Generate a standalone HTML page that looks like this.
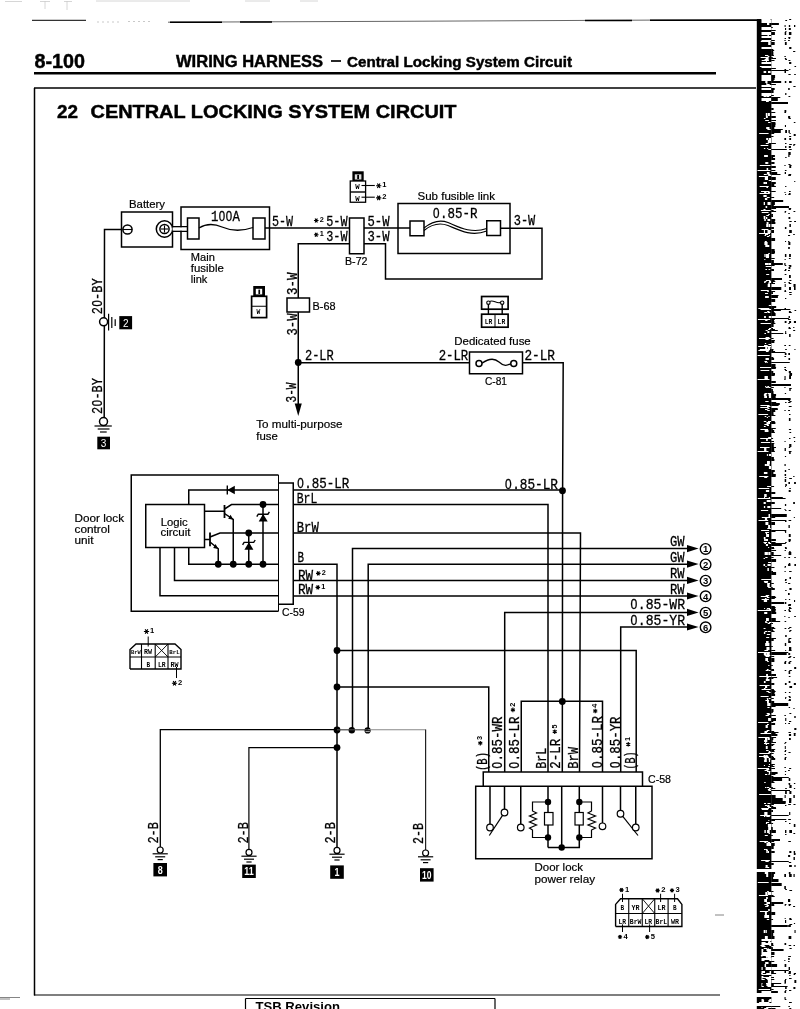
<!DOCTYPE html>
<html><head><meta charset="utf-8"><title>8-100 Wiring Harness - Central Locking System Circuit</title>
<style>
html,body{margin:0;padding:0;background:#fff;}
body{width:800px;height:1009px;overflow:hidden;font-family:"Liberation Sans",sans-serif;}
svg{display:block;position:absolute;left:0;top:0;filter:grayscale(1);}
text{white-space:pre;}
</style></head><body>
<svg width="800" height="1009" viewBox="0 0 800 1009">
<rect width="800" height="1009" fill="#fff"/>
<defs><filter id="nb" x="-5%" y="-1%" width="110%" height="102%"><feGaussianBlur stdDeviation="0.45"/></filter></defs><g filter="url(#nb)"><rect x="756.8" y="19" width="14.6" height="990" fill="#000"/><path d="M761.4 19.5H770.7M761.5 20.5H771.4M768.1 21.5H769.2M761.5 21.5H771.4M768.1 22.5H769.2M761.5 22.5H771.4M767.0 23.5H769.3M767.0 24.5H769.3M765.8 27.5H768.2M764.6 27.5H767.3M761.5 27.5H771.4M761.5 28.5H771.4M761.5 29.5H771.4M765.6 32.5H766.8M764.6 32.5H767.2M761.5 32.5H771.4M765.6 33.5H766.8M764.6 33.5H767.2M761.5 33.5H771.4M765.6 34.5H766.8M764.6 34.5H767.2M761.5 34.5H771.4M767.5 35.5H768.9M764.1 36.5H766.4M761.5 36.5H771.4M761.5 37.5H771.4M766.1 40.5H768.0M761.5 40.5H771.4M760.8 41.5H770.5M768.2 42.5H770.7M768.2 43.5H770.7M768.2 44.5H770.7M765.2 47.5H766.4M761.5 47.5H771.4M765.2 48.5H766.4M761.5 48.5H771.4M765.3 55.5H768.3M765.0 55.5H767.5M767.7 56.5H769.4M760.6 57.5H768.7M765.7 58.5H768.6M766.1 59.5H768.7M764.6 59.5H767.4M761.7 60.5H768.9M765.9 61.5H766.9M768.7 62.5H770.9M768.7 62.5H769.9M761.5 62.5H771.4M768.7 63.5H770.9M768.7 63.5H769.9M761.5 63.5H771.4M759.9 66.5H770.0M761.5 66.5H771.4M766.2 67.5H768.9M761.5 67.5H771.4M763.6 71.5H766.2M768.0 71.5H770.6M763.6 72.5H766.2M768.0 72.5H770.6M765.7 75.5H768.4M761.5 75.5H771.4M765.7 76.5H768.4M761.5 76.5H771.4M765.7 77.5H768.4M761.5 77.5H771.4M766.3 78.5H769.0M764.5 78.5H765.7M761.5 78.5H771.4M766.3 79.5H769.0M764.5 79.5H765.7M761.5 79.5H771.4M761.5 80.5H771.4M765.3 81.5H767.5M765.3 82.5H767.5M766.3 83.5H767.4M766.3 84.5H769.7M761.5 85.5H771.4M767.9 86.5H769.6M761.5 86.5H771.4M761.5 88.5H771.4M761.5 89.5H771.4M767.0 93.5H770.0M761.5 93.5H771.4M767.0 94.5H770.0M761.5 94.5H771.4M765.9 95.5H768.1M761.5 95.5H771.4M763.6 96.5H766.6M766.7 96.5H769.3M764.3 98.5H767.7M764.8 98.5H767.6M761.5 98.5H771.4M764.3 99.5H767.7M764.8 99.5H767.6M761.5 99.5H771.4M764.3 100.5H767.7M764.8 100.5H767.6M761.5 100.5H771.4M766.0 101.5H767.7M766.7 101.5H768.8M765.8 113.5H767.5M768.0 113.5H769.9M765.8 114.5H767.5M768.0 114.5H769.9M765.8 115.5H767.5M768.0 115.5H769.9M765.9 116.5H767.8M765.9 117.5H767.8M763.9 118.5H765.5M765.9 120.5H768.9M765.2 120.5H767.0M768.1 122.5H770.5M766.2 127.5H769.5M766.2 128.5H769.5M767.4 129.5H770.7M759.2 133.5H768.6M766.2 138.5H768.2M768.8 138.5H771.0M766.2 139.5H768.2M768.8 139.5H771.0M767.8 140.5H769.0M768.6 140.5H771.0M767.8 141.5H769.0M768.6 141.5H771.0M767.8 142.5H769.0M768.6 142.5H771.0M765.8 143.5H768.7M760.6 145.5H768.3M767.2 148.5H768.3M763.9 148.5H765.3M768.3 149.5H771.0M766.0 155.5H767.9M764.1 155.5H766.6M766.0 156.5H767.9M764.1 156.5H766.6M765.3 162.5H767.2M767.1 162.5H768.3M765.3 163.5H767.2M767.1 163.5H768.3M759.8 165.5H770.5M766.6 168.5H768.2M766.6 169.5H768.2M757.5 170.5H770.4M766.9 172.5H769.5M767.7 172.5H769.1M766.9 173.5H769.5M767.7 173.5H769.1M763.8 174.5H766.8M767.5 174.5H770.4M768.4 175.5H770.5M768.5 175.5H771.0M758.9 176.5H768.2M764.8 177.5H768.0M764.8 178.5H768.0M764.8 179.5H768.0M768.7 180.5H771.0M769.0 180.5H771.0M763.5 182.5H765.1M765.1 182.5H767.0M763.5 183.5H765.1M765.1 183.5H767.0M759.6 186.5H768.7M766.4 187.5H768.0M761.0 191.5H769.5M767.9 192.5H770.2M764.1 192.5H766.4M759.5 193.5H769.8M763.5 195.5H766.7M763.8 195.5H765.0M763.5 196.5H766.7M763.8 196.5H765.0M766.8 197.5H769.7M764.9 198.5H767.3M764.9 199.5H767.3M767.5 202.5H770.6M763.7 202.5H765.0M767.5 203.5H770.6M763.7 203.5H765.0M767.5 204.5H770.6M763.7 204.5H765.0M765.6 206.5H767.2M765.6 207.5H767.2M763.5 209.5H765.5M760.9 210.5H770.6M761.7 212.5H768.6M768.2 214.5H769.8M766.3 215.5H768.7M767.1 215.5H768.6M763.6 216.5H765.4M765.7 217.5H767.3M763.7 217.5H765.1M765.7 218.5H767.3M763.7 218.5H765.1M767.5 219.5H770.2M764.3 219.5H765.8M767.5 220.5H770.2M764.3 220.5H765.8M766.6 222.5H768.5M766.6 223.5H768.5M766.2 224.5H768.4M768.6 224.5H770.3M766.2 225.5H768.4M768.6 225.5H770.3M766.2 226.5H768.4M768.6 226.5H770.3M761.6 229.5H768.4M767.5 230.5H770.7M763.9 230.5H765.0M767.5 231.5H770.7M763.9 231.5H765.0M767.5 232.5H770.7M763.9 232.5H765.0M759.1 233.5H770.0M765.0 234.5H768.1M768.9 235.5H770.2M764.6 235.5H766.1M766.9 236.5H769.3M764.8 241.5H766.4M765.3 241.5H766.7M764.4 242.5H767.6M764.4 243.5H767.6M764.4 244.5H767.6M767.4 245.5H769.3M765.3 245.5H768.2M767.4 246.5H769.3M765.3 246.5H768.2M768.3 253.5H769.8M764.4 254.5H765.6M765.9 254.5H769.1M764.4 255.5H765.6M765.9 255.5H769.1M764.4 256.5H765.6M765.9 256.5H769.1M765.9 257.5H769.0M764.3 259.5H765.4M765.0 263.5H768.4M768.3 263.5H771.0M765.0 264.5H768.4M768.3 264.5H771.0M765.7 266.5H768.7M768.1 266.5H771.0M765.4 269.5H767.1M768.5 269.5H770.3M766.2 274.5H769.2M765.9 280.5H768.1M768.1 280.5H770.4M764.3 281.5H766.5M769.0 281.5H771.0M764.1 282.5H765.6M768.6 282.5H771.0M768.3 283.5H769.8M767.7 284.5H770.1M767.7 285.5H770.1M767.7 286.5H770.1M760.8 290.5H768.7M767.3 291.5H768.8M765.6 293.5H768.1M765.0 293.5H766.4M765.1 296.5H767.8M767.2 296.5H768.8M765.1 297.5H767.8M767.2 297.5H768.8M768.8 305.5H771.0M758.4 308.5H769.3M760.5 309.5H771.4M767.1 311.5H769.4M764.3 312.5H767.5M768.0 312.5H770.2M764.1 316.5H765.9M768.8 316.5H771.0M764.1 317.5H765.9M768.8 317.5H771.0M757.9 319.5H770.2M765.2 320.5H767.5M760.6 323.5H770.9M769.0 328.5H771.0M768.0 329.5H770.2M765.6 330.5H767.7M767.4 331.5H769.4M767.4 332.5H769.4M764.4 333.5H766.0M765.6 337.5H768.6M767.3 337.5H769.4M759.0 338.5H770.4M765.6 339.5H768.4M765.9 339.5H768.4M764.9 343.5H766.2M768.4 344.5H771.0M764.1 345.5H766.0M764.4 345.5H767.7M758.2 346.5H771.0M765.2 347.5H767.3M767.8 347.5H770.4M765.2 348.5H767.3M767.8 348.5H770.4M759.8 349.5H770.0M758.4 350.5H769.3M765.9 351.5H768.6M757.6 355.5H769.7M765.5 358.5H768.9M765.5 359.5H768.9M764.5 361.5H765.8M764.9 361.5H767.1M766.7 362.5H767.7M765.2 362.5H766.4M760.0 367.5H771.3M760.5 370.5H769.3M764.5 376.5H767.9M764.5 377.5H767.9M764.5 378.5H767.9M757.6 379.5H769.5M765.1 386.5H766.3M767.3 386.5H769.1M765.7 387.5H767.9M768.2 387.5H770.6M768.0 393.5H771.0M764.5 393.5H767.5M768.6 394.5H771.0M763.9 394.5H766.5M768.6 395.5H771.0M763.9 395.5H766.5M768.9 396.5H771.0M764.2 396.5H767.0M768.9 397.5H771.0M764.2 397.5H767.0M765.3 401.5H768.6M760.4 405.5H769.5M767.7 406.5H770.1M767.0 406.5H770.4M760.3 407.5H768.6M767.4 408.5H769.5M765.0 409.5H767.7M767.2 410.5H769.8M758.4 414.5H768.1M768.4 416.5H769.6M764.7 416.5H766.3M766.8 417.5H768.0M763.8 421.5H766.3M768.0 421.5H771.0M767.4 422.5H769.8M766.5 422.5H770.0M767.4 423.5H769.8M766.5 423.5H770.0M766.4 424.5H768.6M764.4 424.5H767.0M766.8 425.5H769.0M763.9 426.5H765.7M760.4 429.5H768.1M765.4 430.5H768.5M764.7 430.5H766.9M765.4 431.5H768.5M764.7 431.5H766.9M768.2 437.5H771.0M760.2 438.5H771.0M766.1 439.5H767.8M766.1 440.5H767.8M760.9 442.5H770.2M760.0 447.5H769.6M764.1 448.5H766.4M764.1 449.5H766.4M764.1 450.5H766.4M757.6 451.5H768.5M768.9 454.5H771.0M766.9 454.5H767.9M768.9 455.5H771.0M766.9 455.5H767.9M767.0 461.5H769.5M768.6 461.5H769.8M767.0 462.5H769.5M768.6 462.5H769.8M767.0 463.5H769.5M768.6 463.5H769.8M766.2 464.5H769.6M764.8 464.5H766.5M766.2 465.5H769.6M764.8 465.5H766.5M768.9 466.5H771.0M768.9 467.5H771.0M768.9 468.5H771.0M764.5 472.5H767.4M763.9 472.5H767.1M764.5 473.5H767.4M763.9 473.5H767.1M759.2 476.5H768.3M764.6 477.5H767.2M764.4 477.5H765.8M769.0 486.5H771.0M767.1 486.5H770.5M758.7 488.5H769.3M765.9 490.5H769.2M765.9 491.5H769.2M764.2 494.5H766.7M764.2 495.5H766.7M764.2 496.5H766.7M768.8 497.5H770.0M764.0 497.5H765.1M757.8 498.5H770.3M768.4 500.5H770.7M766.7 500.5H769.9M768.4 501.5H770.7M766.7 501.5H769.9M763.6 502.5H765.8M763.6 503.5H765.8M767.3 506.5H770.4M763.9 506.5H765.2M767.3 507.5H770.4M763.9 507.5H765.2M760.9 510.5H768.2M768.5 514.5H770.0M768.5 515.5H770.0M768.5 516.5H770.0M761.8 517.5H770.2M764.9 518.5H767.2M765.2 518.5H766.7M764.9 519.5H767.2M765.2 519.5H766.7M758.5 520.5H768.2M765.7 522.5H768.4M765.6 522.5H767.6M765.7 523.5H768.4M765.6 523.5H767.6M765.7 524.5H768.4M765.6 524.5H767.6M768.1 525.5H770.1M768.1 526.5H770.1M768.1 527.5H770.1M767.3 528.5H770.8M761.1 530.5H769.1M765.4 532.5H768.9M765.5 532.5H768.8M765.8 533.5H767.1M766.1 534.5H769.0M766.1 535.5H769.0M766.1 536.5H769.0M764.0 537.5H765.4M763.8 537.5H765.2M764.0 538.5H765.4M763.8 538.5H765.2M764.1 539.5H765.9M765.8 539.5H768.0M764.1 540.5H765.9M765.8 540.5H768.0M763.5 542.5H767.0M768.1 542.5H770.0M764.4 543.5H766.0M768.5 543.5H771.0M765.9 544.5H768.0M766.1 544.5H768.0M765.9 545.5H768.0M766.1 545.5H768.0M768.1 547.5H769.2M764.6 552.5H767.9M768.3 552.5H770.5M764.6 553.5H767.9M768.3 553.5H770.5M764.6 554.5H767.9M768.3 554.5H770.5M765.3 557.5H767.6M763.6 558.5H764.9M768.1 562.5H771.0M763.5 564.5H765.1M767.5 564.5H770.7M763.5 565.5H765.1M767.5 565.5H770.7M765.4 566.5H766.6M767.4 568.5H768.9M767.4 569.5H768.9M767.4 570.5H768.9M761.3 579.5H771.0M765.5 581.5H768.1M763.9 581.5H767.1M764.4 582.5H767.8M767.2 583.5H770.0M767.2 584.5H769.7M767.2 585.5H769.7M767.2 586.5H769.7M768.2 587.5H770.8M767.3 595.5H769.2M765.7 595.5H769.0M760.8 596.5H768.2M766.9 597.5H769.4M764.9 598.5H766.5M761.6 599.5H768.9M763.8 600.5H767.1M763.8 601.5H767.1M764.1 608.5H765.1M766.9 608.5H770.0M768.5 609.5H771.0M766.5 609.5H767.6M757.7 610.5H771.3M764.2 612.5H767.3M764.2 613.5H767.3M766.0 618.5H768.0M766.4 618.5H768.9M766.0 619.5H768.0M766.4 619.5H768.9M766.0 620.5H768.0M766.4 620.5H768.9M765.2 621.5H766.7M765.2 622.5H767.5M768.9 622.5H771.0M767.7 623.5H769.9M763.6 628.5H765.5M767.6 631.5H770.6M764.7 631.5H767.0M763.9 632.5H765.3M763.9 633.5H765.3M766.8 634.5H770.2M766.3 637.5H768.9M766.5 637.5H769.2M766.1 641.5H767.4M766.3 641.5H768.6M766.1 642.5H767.4M766.3 642.5H768.6M765.2 643.5H768.1M766.2 643.5H769.4M765.2 644.5H768.1M766.2 644.5H769.4M765.2 645.5H768.1M766.2 645.5H769.4M766.8 647.5H769.4M766.5 647.5H769.2M766.8 648.5H769.4M766.5 648.5H769.2M766.8 649.5H769.4M766.5 649.5H769.2M766.3 650.5H768.2M764.4 650.5H767.6M758.0 652.5H769.9M766.5 653.5H769.7M763.8 653.5H766.4M766.5 654.5H769.7M763.8 654.5H766.4M767.0 655.5H770.3M764.5 655.5H767.0M766.8 656.5H769.4M765.6 656.5H769.1M765.3 658.5H768.0M765.3 659.5H768.0M765.3 660.5H768.0M767.2 661.5H768.8M768.2 665.5H769.5M766.9 669.5H768.6M768.9 670.5H770.6M765.7 670.5H768.7M766.5 674.5H767.8M766.2 674.5H767.8M766.5 675.5H767.8M766.2 675.5H767.8M759.3 676.5H771.0M766.5 677.5H768.7M766.4 678.5H767.9M765.8 679.5H768.9M766.4 679.5H769.6M765.8 680.5H768.9M766.4 680.5H769.6M763.9 681.5H765.6M763.9 682.5H765.6M759.5 685.5H769.6M765.5 686.5H766.5M765.0 686.5H767.2M765.5 687.5H766.5M765.0 687.5H767.2M763.9 688.5H765.6M761.6 689.5H770.6M766.4 691.5H769.2M768.3 692.5H770.6M760.6 696.5H768.6M768.6 698.5H770.6M766.8 698.5H767.9M767.0 699.5H768.3M765.4 700.5H767.0M766.4 700.5H769.1M767.0 701.5H768.9M767.0 702.5H768.9M767.2 703.5H770.5M767.2 704.5H770.5M767.2 705.5H770.5M767.4 707.5H769.6M766.7 713.5H769.7M767.4 714.5H770.2M765.6 715.5H768.5M766.0 715.5H768.7M768.1 718.5H770.9M768.1 719.5H770.9M768.1 720.5H770.9M758.1 722.5H768.4M767.0 724.5H768.9M765.6 725.5H767.8M765.6 726.5H767.8M765.6 727.5H767.8M766.7 730.5H769.5M764.5 731.5H767.9M765.3 731.5H767.4M764.4 732.5H767.1M760.5 733.5H771.3M758.4 737.5H769.5M767.9 738.5H769.8M765.0 738.5H767.5M767.9 739.5H769.8M765.0 739.5H767.5M765.3 740.5H766.4M764.1 740.5H767.3M765.3 741.5H766.4M764.1 741.5H767.3M765.1 742.5H766.3M764.0 743.5H766.9M766.3 743.5H769.2M765.7 744.5H767.0M765.8 746.5H767.7M765.8 747.5H767.7M765.8 748.5H767.7M766.1 750.5H768.6M768.8 751.5H770.3M768.3 752.5H771.0M759.3 753.5H769.7M763.6 755.5H765.7M766.1 755.5H767.7M759.0 756.5H768.4M766.1 757.5H769.1M763.7 757.5H766.0M768.7 758.5H770.4M764.5 758.5H766.8M768.7 759.5H770.4M764.5 759.5H766.8M764.1 760.5H766.8M768.9 760.5H770.1M764.1 761.5H766.8M768.9 761.5H770.1M768.9 764.5H770.0M763.9 765.5H765.0M768.1 766.5H769.9M757.7 768.5H769.0M766.3 769.5H769.3M767.1 770.5H768.3M764.6 770.5H767.1M767.0 771.5H770.4M768.8 772.5H770.1M768.8 773.5H770.1M768.4 774.5H769.7M765.0 774.5H767.3M764.2 782.5H765.7M765.0 787.5H766.5M767.0 787.5H769.3M769.0 788.5H771.0M767.8 789.5H770.4M768.4 790.5H770.4M768.8 790.5H771.0M759.1 794.5H770.8M767.5 803.5H770.4M764.0 803.5H766.0M764.9 805.5H767.4M767.4 805.5H769.5M767.2 806.5H768.8M767.5 806.5H769.8M768.1 807.5H770.4M768.9 807.5H771.0M761.3 808.5H768.9M761.8 809.5H768.2M764.3 812.5H767.5M764.8 812.5H766.7M764.3 813.5H767.5M764.8 813.5H766.7M764.3 814.5H767.5M764.8 814.5H766.7M760.2 815.5H770.4M764.0 816.5H765.3M766.3 816.5H769.8M768.3 820.5H769.4M766.6 822.5H767.7M766.0 822.5H769.1M765.9 823.5H767.1M767.9 824.5H771.0M767.9 825.5H771.0M767.9 826.5H771.0M768.2 827.5H771.0M768.2 828.5H771.0M768.2 829.5H771.0M764.4 830.5H765.8M767.1 830.5H769.7M764.4 831.5H765.8M767.1 831.5H769.7M764.4 832.5H765.8M767.1 832.5H769.7M768.6 833.5H769.9M764.8 835.5H767.8M759.6 841.5H768.2M764.4 842.5H766.4M767.6 842.5H770.0M766.5 843.5H768.9M768.4 843.5H771.0M766.5 844.5H768.9M768.4 844.5H771.0M766.5 845.5H768.9M768.4 845.5H771.0M765.7 849.5H767.5M764.0 849.5H765.8M766.8 850.5H767.9M766.2 850.5H767.9M766.3 851.5H767.6M767.5 851.5H769.0M766.3 852.5H767.6M767.5 852.5H769.0M761.1 860.5H769.9M765.5 861.5H768.3M765.8 861.5H768.6M765.6 865.5H767.7M765.6 866.5H767.7M765.4 867.5H766.9M766.8 867.5H769.2M764.8 872.5H768.2M764.8 873.5H768.2M766.2 874.5H768.2M766.2 875.5H768.2M766.2 876.5H768.2M757.8 882.5H768.7M767.1 891.5H768.8M765.3 892.5H767.3M767.6 892.5H771.0M765.3 893.5H767.3M767.6 893.5H771.0M765.3 894.5H767.3M767.6 894.5H771.0M758.9 895.5H768.1M766.1 897.5H767.8M766.1 898.5H767.8M764.2 899.5H767.0M764.2 900.5H767.0M764.2 901.5H767.0M766.6 902.5H769.9M766.8 902.5H769.7M766.6 903.5H769.9M766.8 903.5H769.7M764.4 904.5H767.8M766.6 905.5H768.9M765.2 906.5H766.9M766.5 906.5H768.3M768.2 909.5H769.8M768.2 910.5H769.8M759.9 911.5H768.3M764.9 912.5H766.9M764.9 913.5H766.9M764.9 914.5H766.9M764.3 915.5H767.4M765.7 915.5H769.1M764.3 916.5H767.4M765.7 916.5H769.1M764.3 917.5H767.4M765.7 917.5H769.1M766.8 919.5H769.2M765.6 930.5H766.8M763.7 930.5H765.3M765.6 931.5H766.8M763.7 931.5H765.3M765.6 932.5H766.8M763.7 932.5H765.3M764.9 936.5H767.8M764.9 937.5H767.8M764.9 938.5H767.8M765.8 939.5H767.3M767.9 939.5H769.3M761.5 939.5H771.5M765.8 940.5H767.3M767.9 940.5H769.3M761.5 940.5H771.5M768.3 941.5H770.3M761.5 942.5H771.5M767.4 943.5H770.6M767.8 943.5H771.0M761.5 943.5H771.5M767.4 944.5H770.6M767.8 944.5H771.0M761.5 944.5H771.5M760.4 945.5H771.4M761.5 945.5H771.5M761.5 946.5H771.5M763.8 948.5H767.0M767.6 948.5H768.6M761.5 949.5H771.5M761.5 950.5H771.5M761.5 951.5H771.5M766.1 952.5H769.5M761.5 952.5H771.5M766.1 953.5H769.5M761.5 953.5H771.5M766.1 954.5H769.5M761.5 954.5H771.5M760.9 955.5H768.7M761.5 955.5H771.5M761.5 956.5H771.5M766.2 957.5H767.6M767.6 957.5H770.9M761.5 958.5H771.5M761.5 959.5H771.5M761.5 960.5H771.5M765.2 962.5H767.7M766.3 962.5H768.5M765.2 963.5H767.7M766.3 963.5H768.5M764.6 964.5H766.1M764.6 965.5H766.1M764.6 966.5H766.1M765.6 967.5H768.0M767.3 967.5H770.1M761.5 967.5H771.5M765.6 968.5H768.0M767.3 968.5H770.1M761.5 968.5H771.5M765.6 969.5H768.0M767.3 969.5H770.1M761.5 969.5H771.5M761.5 971.5H771.5M761.5 972.5H771.5M761.3 973.5H769.3M761.5 973.5H771.5M761.5 974.5H771.5M763.8 976.5H767.2M761.5 976.5H771.5M767.9 977.5H770.5M766.1 977.5H769.5M761.5 977.5H771.5M766.2 978.5H769.5M767.6 978.5H770.3M761.5 978.5H771.5M761.5 979.5H771.5M767.8 980.5H771.0M767.8 981.5H771.0M767.8 982.5H771.0M761.5 983.5H771.5M761.5 984.5H771.5M761.5 985.5H771.5M761.5 986.5H771.5M758.6 989.5H770.1M768.9 991.5H771.0M761.5 991.5H771.5M768.9 992.5H771.0M761.5 992.5H771.5M761.5 999.5H771.5M768.1 1000.5H770.3M761.5 1000.5H771.5M768.1 1001.5H770.3M761.5 1001.5H771.5M759.1 1002.5H769.4M764.4 1007.5H767.2M761.5 1007.5H771.5M764.2 1008.5H766.5M765.2 1008.5H768.3" stroke="#fff" stroke-width="1" fill="none"/><rect x="756" y="869" width="16" height="3" fill="#fff"/><rect x="756" y="993" width="16" height="4" fill="#fff"/><rect x="756" y="1003" width="16" height="3" fill="#fff"/><path d="M789.2 19.5H791.2M785.3 20.5H787.1M771.2 23.5H778.9M771.2 24.5H778.9M788.8 25.5H790.2M784.6 25.5H785.6M794.0 25.5H795.3M788.8 26.5H790.2M784.6 26.5H785.6M794.0 26.5H795.3M771.2 27.5H772.8M788.8 28.5H790.8M785.0 28.5H786.1M788.8 29.5H790.8M785.0 29.5H786.1M771.2 30.5H775.7M785.3 31.5H786.5M771.2 32.5H774.9M788.9 32.5H791.4M784.7 32.5H786.2M771.2 33.5H774.9M788.9 33.5H791.4M784.7 33.5H786.2M771.2 34.5H774.9M788.9 34.5H791.4M784.7 34.5H786.2M788.3 37.5H790.4M788.6 38.5H790.2M784.6 38.5H786.0M771.2 40.5H774.8M788.1 40.5H789.8M784.4 40.5H785.7M771.2 42.5H774.7M784.9 42.5H786.7M771.2 43.5H774.7M784.9 43.5H786.7M771.2 44.5H774.7M784.9 44.5H786.7M789.2 47.5H791.4M789.2 48.5H791.4M771.2 49.5H773.3M771.2 50.5H774.2M771.2 51.5H773.2M793.1 51.5H795.3M771.2 52.5H773.4M771.2 53.5H773.4M771.2 54.5H773.4M771.2 55.5H773.9M784.4 56.5H785.8M771.2 57.5H772.7M771.2 58.5H776.0M784.8 58.5H786.3M785.2 59.5H787.0M771.2 60.5H774.5M788.5 60.5H790.4M789.1 62.5H791.3M789.1 63.5H791.3M794.5 66.5H796.1M771.2 68.5H775.9M789.2 69.5H790.4M784.5 69.5H786.1M771.2 70.5H788.5M784.5 71.5H786.0M784.5 72.5H786.0M788.4 74.5H790.7M794.2 74.5H795.8M771.2 75.5H775.1M771.2 76.5H775.1M771.2 77.5H775.1M771.2 78.5H774.6M771.2 79.5H774.6M771.2 80.5H773.7M771.2 81.5H781.2M789.1 81.5H791.6M784.8 81.5H786.3M771.2 82.5H781.2M789.1 82.5H791.6M784.8 82.5H786.3M771.2 84.5H775.9M793.4 86.5H795.6M771.2 88.5H774.7M788.2 88.5H789.7M771.2 89.5H774.7M788.2 89.5H789.7M771.2 90.5H773.6M771.2 91.5H773.6M771.2 92.5H773.6M785.2 93.5H786.4M785.2 94.5H786.4M771.2 95.5H773.8M788.5 96.5H790.3M771.2 97.5H780.3M771.2 98.5H777.8M771.2 99.5H777.8M771.2 100.5H777.8M771.2 102.5H788.0M771.2 103.5H788.0M771.2 108.5H773.6M771.2 109.5H773.6M784.5 110.5H786.3M784.5 111.5H786.3M771.2 112.5H775.3M784.4 112.5H786.1M771.2 116.5H775.8M788.1 116.5H790.2M771.2 117.5H775.8M788.1 117.5H790.2M788.5 118.5H790.8M771.2 120.5H776.0M771.2 122.5H775.4M793.8 122.5H795.4M771.2 123.5H775.6M771.2 124.5H775.6M771.2 125.5H775.3M784.9 125.5H786.0M771.2 126.5H775.3M784.9 126.5H786.0M771.2 127.5H774.3M771.2 128.5H774.3M771.2 129.5H782.8M771.2 130.5H780.8M788.5 130.5H789.8M785.2 130.5H787.0M771.2 131.5H780.8M788.5 131.5H789.8M785.2 131.5H787.0M771.2 132.5H780.8M788.5 132.5H789.8M785.2 132.5H787.0M771.2 133.5H774.2M789.5 133.5H790.7M793.7 134.5H795.7M793.7 135.5H795.7M771.2 136.5H773.5M789.1 136.5H791.2M789.3 138.5H791.1M784.4 138.5H786.1M789.3 139.5H791.1M784.4 139.5H786.1M771.2 143.5H775.9M785.0 143.5H786.5M789.2 144.5H791.8M793.4 144.5H795.3M793.3 145.5H794.5M788.8 146.5H790.9M785.1 146.5H786.4M788.8 147.5H790.9M785.1 147.5H786.4M771.2 149.5H786.8M789.2 149.5H791.7M788.3 152.5H790.7M788.3 153.5H790.7M788.3 154.5H790.7M771.2 155.5H774.9M788.3 155.5H789.5M771.2 156.5H774.9M788.3 156.5H789.5M771.2 157.5H773.1M785.2 157.5H786.6M771.2 158.5H775.1M771.2 159.5H775.1M771.2 162.5H774.5M771.2 163.5H774.5M788.4 164.5H790.5M789.4 165.5H791.6M784.4 165.5H785.6M771.2 166.5H775.8M789.3 166.5H791.2M771.2 167.5H775.8M789.3 167.5H791.2M771.2 170.5H775.4M784.9 170.5H786.5M771.2 172.5H777.2M784.7 172.5H786.0M771.2 173.5H777.2M784.7 173.5H786.0M771.2 174.5H780.5M788.5 174.5H791.2M788.2 175.5H790.9M771.2 177.5H775.8M771.2 178.5H775.8M771.2 179.5H775.8M794.2 181.5H795.3M771.2 182.5H775.8M771.2 183.5H775.8M771.2 184.5H774.3M771.2 185.5H774.3M771.2 186.5H775.9M785.1 186.5H786.4M771.2 191.5H775.7M789.0 191.5H790.7M784.5 192.5H785.6M788.9 193.5H790.6M788.3 194.5H790.6M785.1 194.5H786.2M771.2 197.5H774.2M771.2 200.5H783.2M771.2 201.5H783.2M771.2 202.5H774.9M771.2 203.5H774.9M771.2 204.5H774.9M771.2 205.5H773.8M771.2 206.5H789.0M771.2 207.5H789.0M771.2 208.5H776.1M788.7 208.5H791.2M788.8 209.5H790.8M771.2 210.5H773.6M771.2 211.5H776.1M784.7 211.5H786.2M793.5 211.5H795.3M784.7 212.5H785.7M788.3 213.5H789.8M771.2 214.5H773.0M771.2 215.5H772.9M771.2 216.5H773.0M788.5 217.5H790.3M788.5 218.5H790.3M771.2 219.5H775.2M771.2 220.5H775.2M771.2 221.5H774.8M789.3 221.5H791.7M794.1 221.5H796.0M771.2 222.5H775.4M771.2 223.5H775.4M789.4 224.5H790.9M789.4 225.5H790.9M789.4 226.5H790.9M771.2 227.5H773.9M784.9 227.5H786.4M771.2 228.5H773.9M784.9 228.5H786.4M771.2 230.5H774.0M789.2 230.5H791.8M771.2 231.5H774.0M789.2 231.5H791.8M771.2 232.5H774.0M789.2 232.5H791.8M793.2 234.5H794.8M788.0 235.5H790.1M771.2 238.5H775.1M771.2 239.5H775.1M771.2 240.5H775.1M788.1 241.5H789.4M785.0 241.5H786.1M788.4 242.5H790.4M788.4 243.5H790.4M788.4 244.5H790.4M788.2 247.5H789.8M788.2 248.5H789.8M771.2 249.5H774.7M771.2 250.5H774.7M771.2 251.5H775.0M771.2 252.5H775.0M771.2 253.5H774.6M789.1 254.5H790.9M784.9 254.5H786.4M789.1 255.5H790.9M784.9 255.5H786.4M789.1 256.5H790.9M784.9 256.5H786.4M771.2 258.5H774.7M788.9 258.5H790.6M784.6 259.5H785.7M771.2 260.5H773.9M771.2 261.5H773.9M771.2 262.5H773.9M771.2 263.5H782.8M784.3 263.5H785.5M771.2 264.5H782.8M784.3 264.5H785.5M771.2 265.5H774.6M788.7 265.5H791.3M784.7 265.5H786.3M789.4 266.5H791.3M788.6 267.5H790.4M788.6 268.5H790.4M771.2 269.5H773.9M785.0 269.5H786.5M771.2 270.5H774.0M788.0 270.5H789.9M784.4 270.5H786.2M784.7 274.5H786.4M789.0 275.5H790.8M789.0 276.5H790.8M789.0 277.5H790.8M771.2 278.5H782.0M771.2 279.5H782.0M771.2 280.5H774.6M789.4 280.5H791.4M771.2 281.5H775.3M771.2 282.5H773.1M788.4 282.5H790.0M784.3 282.5H785.6M771.2 283.5H775.0M788.8 283.5H791.3M784.7 284.5H785.7M793.5 284.5H795.6M784.7 285.5H785.7M793.5 285.5H795.6M784.7 286.5H785.7M793.5 286.5H795.6M771.2 287.5H781.3M789.0 287.5H791.0M794.0 287.5H795.6M771.2 288.5H781.3M789.0 288.5H791.0M794.0 288.5H795.6M771.2 289.5H781.3M789.0 289.5H791.0M794.0 289.5H795.6M784.6 290.5H785.9M771.2 291.5H775.1M784.4 291.5H786.2M771.2 292.5H772.9M789.1 292.5H791.7M771.2 293.5H773.0M789.3 294.5H791.6M771.2 295.5H778.5M771.2 296.5H777.9M771.2 297.5H777.9M785.0 298.5H786.3M771.2 299.5H775.2M771.2 300.5H775.2M771.2 301.5H775.2M771.2 306.5H776.2M771.2 307.5H776.2M771.2 308.5H774.1M784.5 308.5H786.0M771.2 309.5H790.3M784.7 309.5H786.0M771.2 310.5H780.9M794.5 310.5H796.2M771.2 311.5H773.9M788.9 311.5H790.8M771.2 312.5H774.7M788.9 312.5H791.7M771.2 313.5H775.6M771.2 314.5H775.6M771.2 315.5H775.6M788.6 316.5H789.9M788.6 317.5H789.9M771.2 318.5H788.9M771.2 319.5H774.8M788.1 319.5H790.6M771.2 320.5H774.0M771.2 321.5H774.4M789.1 321.5H791.1M784.7 321.5H786.5M793.9 321.5H796.0M771.2 322.5H774.4M789.1 322.5H791.1M784.7 322.5H786.5M793.9 322.5H796.0M771.2 323.5H775.4M788.3 323.5H789.7M771.2 324.5H773.6M771.2 325.5H773.6M771.2 326.5H773.6M788.6 327.5H790.2M793.2 327.5H794.4M771.2 328.5H773.0M788.5 328.5H790.9M771.2 329.5H774.9M771.2 330.5H777.8M793.2 330.5H795.2M785.2 331.5H786.2M785.2 332.5H786.2M771.2 333.5H783.3M785.0 333.5H786.4M789.1 334.5H790.6M789.1 335.5H790.6M789.1 336.5H790.6M771.2 338.5H773.6M771.2 340.5H774.9M771.2 341.5H774.4M771.2 342.5H774.4M788.8 345.5H790.5M784.3 345.5H786.0M771.2 349.5H773.5M785.2 349.5H786.8M794.4 349.5H795.5M771.2 350.5H773.2M771.2 351.5H775.1M771.2 352.5H785.5M788.3 353.5H790.0M784.8 353.5H786.5M788.3 354.5H790.0M784.8 354.5H786.5M784.4 356.5H786.1M771.2 357.5H773.4M771.2 358.5H774.1M788.5 358.5H790.1M771.2 359.5H774.1M788.5 359.5H790.1M771.2 362.5H789.4M788.1 362.5H789.6M785.0 362.5H786.4M771.2 364.5H775.5M771.2 365.5H775.5M771.2 366.5H775.5M771.2 367.5H776.1M784.3 367.5H786.1M771.2 368.5H775.8M784.4 369.5H786.0M785.2 370.5H787.0M771.2 371.5H773.3M788.8 371.5H790.9M771.2 372.5H773.3M788.8 372.5H790.9M771.2 373.5H775.0M789.4 373.5H792.1M771.2 374.5H775.0M789.4 374.5H792.1M771.2 375.5H774.7M789.2 375.5H791.9M789.1 376.5H791.0M784.5 376.5H785.6M789.1 377.5H791.0M784.5 377.5H785.6M789.1 378.5H791.0M784.5 378.5H785.6M784.3 379.5H785.6M771.2 381.5H775.8M771.2 382.5H775.8M771.2 384.5H790.9M788.3 384.5H790.6M771.2 385.5H790.9M788.3 385.5H790.6M771.2 387.5H773.8M784.4 387.5H785.5M789.2 388.5H791.7M771.2 389.5H772.9M789.3 389.5H790.7M771.2 390.5H772.9M789.3 390.5H790.7M771.2 391.5H773.5M771.2 392.5H773.5M771.2 393.5H773.6M784.8 393.5H786.1M771.2 394.5H776.1M771.2 395.5H776.1M771.2 396.5H775.7M771.2 397.5H775.7M771.2 398.5H790.5M789.1 398.5H790.3M771.2 399.5H790.5M789.1 399.5H790.3M788.2 400.5H790.1M789.4 401.5H791.6M771.2 402.5H776.2M788.1 402.5H790.5M785.1 402.5H786.5M771.2 403.5H779.8M771.2 404.5H779.8M771.2 405.5H778.6M788.8 406.5H791.6M771.2 408.5H777.7M771.2 409.5H777.9M771.2 410.5H775.2M788.1 410.5H790.0M784.4 410.5H785.7M771.2 411.5H775.3M771.2 412.5H773.5M771.2 413.5H773.5M771.2 414.5H773.6M789.0 414.5H790.5M771.2 415.5H775.4M788.9 418.5H790.5M788.9 419.5H790.5M788.9 420.5H790.5M771.2 421.5H774.8M771.2 422.5H775.4M771.2 423.5H775.4M771.2 428.5H775.8M771.2 429.5H772.8M788.9 429.5H791.1M771.2 430.5H774.2M771.2 431.5H774.2M771.2 432.5H774.9M789.4 432.5H791.2M793.5 437.5H795.2M771.2 438.5H773.1M789.0 438.5H790.5M771.2 441.5H774.0M784.5 441.5H785.6M794.0 441.5H795.2M771.2 443.5H774.3M771.2 444.5H773.8M789.2 444.5H791.4M771.2 445.5H773.8M789.2 445.5H791.4M771.2 446.5H773.8M789.2 446.5H791.4M771.2 447.5H776.0M788.8 447.5H790.3M771.2 448.5H774.2M784.6 448.5H785.9M771.2 449.5H774.2M784.6 449.5H785.9M771.2 450.5H774.2M784.6 450.5H785.9M771.2 451.5H774.9M788.8 451.5H791.5M789.1 452.5H790.7M789.1 453.5H790.7M784.9 456.5H786.1M771.2 457.5H773.9M771.2 458.5H773.9M771.2 459.5H774.4M771.2 460.5H774.4M784.5 464.5H785.7M784.5 465.5H785.7M788.4 469.5H789.8M771.2 470.5H774.8M784.8 470.5H786.2M771.2 471.5H774.8M784.8 471.5H786.2M771.2 472.5H773.4M771.2 473.5H773.4M771.2 474.5H775.8M784.6 474.5H786.1M771.2 475.5H775.8M784.6 475.5H786.1M771.2 476.5H775.7M793.2 476.5H794.5M784.9 477.5H786.3M789.2 478.5H791.9M784.7 479.5H786.2M784.7 480.5H786.2M784.7 481.5H786.2M788.4 482.5H790.0M794.1 482.5H795.9M788.4 483.5H790.0M794.1 483.5H795.9M785.3 484.5H786.9M785.3 485.5H786.9M771.2 486.5H774.1M785.1 486.5H786.1M789.3 488.5H790.8M788.7 490.5H790.7M788.7 491.5H790.7M771.2 492.5H775.3M771.2 493.5H775.3M771.2 497.5H782.8M771.2 498.5H785.6M771.2 502.5H774.8M793.2 502.5H794.9M771.2 503.5H774.8M793.2 503.5H794.9M784.9 504.5H786.2M784.9 505.5H786.2M771.2 508.5H781.2M784.5 509.5H785.6M788.7 510.5H790.8M785.2 510.5H786.5M771.2 514.5H786.8M771.2 515.5H786.8M771.2 516.5H786.8M771.2 517.5H775.2M793.8 517.5H794.9M771.2 520.5H786.4M788.6 520.5H791.2M785.0 521.5H786.5M771.2 522.5H775.0M771.2 523.5H775.0M771.2 524.5H775.0M788.5 525.5H789.8M788.5 526.5H789.8M788.5 527.5H789.8M771.2 530.5H786.3M771.2 531.5H775.5M784.8 531.5H786.2M785.1 532.5H786.2M788.8 534.5H790.7M788.8 535.5H790.7M788.8 536.5H790.7M771.2 539.5H775.9M788.5 539.5H790.8M771.2 540.5H775.9M788.5 540.5H790.8M788.7 541.5H790.3M771.2 542.5H775.6M785.1 542.5H786.7M771.2 543.5H785.8M771.2 544.5H781.8M771.2 545.5H781.8M771.2 547.5H774.0M784.9 547.5H786.6M771.2 548.5H774.3M785.1 548.5H786.9M771.2 550.5H776.1M784.6 550.5H785.9M789.2 551.5H790.6M771.2 552.5H773.7M788.6 552.5H791.3M771.2 553.5H773.7M788.6 553.5H791.3M771.2 554.5H773.7M788.6 554.5H791.3M771.2 555.5H781.2M771.2 557.5H773.6M788.4 557.5H790.1M784.3 557.5H785.7M794.3 557.5H795.8M771.2 559.5H776.1M771.2 560.5H776.1M771.2 561.5H776.1M788.8 563.5H790.3M788.1 564.5H790.5M794.4 564.5H796.0M788.1 565.5H790.5M794.4 565.5H796.0M784.7 566.5H786.0M771.2 567.5H774.5M784.6 567.5H785.6M771.2 571.5H773.0M789.1 571.5H791.6M784.5 571.5H785.7M771.2 572.5H776.1M771.2 573.5H776.1M771.2 574.5H776.1M789.5 577.5H791.0M789.5 578.5H791.0M785.0 579.5H786.7M784.9 580.5H786.4M785.3 582.5H786.9M771.2 583.5H773.8M788.1 583.5H790.3M771.2 587.5H772.7M771.2 588.5H774.8M789.4 588.5H791.6M771.2 589.5H774.8M789.4 589.5H791.6M785.2 590.5H786.6M788.0 593.5H789.7M788.0 594.5H789.7M771.2 596.5H775.3M771.2 597.5H776.1M771.2 598.5H774.8M788.9 599.5H790.2M785.2 599.5H786.4M794.0 600.5H795.1M794.0 601.5H795.1M771.2 602.5H784.0M784.7 602.5H786.3M771.2 603.5H784.0M784.7 603.5H786.3M788.4 604.5H791.1M788.1 605.5H790.9M771.2 606.5H774.8M771.2 607.5H775.7M788.9 607.5H790.7M771.2 608.5H775.2M789.0 608.5H791.6M771.2 609.5H775.9M788.4 609.5H789.7M771.2 610.5H775.7M788.5 610.5H790.2M784.4 610.5H786.0M771.2 611.5H775.5M788.8 611.5H790.9M771.2 612.5H776.2M771.2 613.5H776.2M784.3 616.5H785.4M794.2 616.5H795.9M788.4 617.5H789.7M771.2 618.5H775.8M771.2 619.5H775.8M771.2 620.5H775.8M771.2 621.5H780.2M784.6 621.5H786.2M771.2 623.5H773.0M771.2 627.5H774.2M789.2 627.5H791.4M771.2 628.5H775.3M788.1 628.5H789.6M784.6 628.5H786.3M771.2 629.5H772.8M771.2 630.5H773.4M789.5 630.5H791.5M771.2 631.5H774.6M789.2 631.5H790.5M785.2 635.5H786.7M785.2 636.5H786.7M771.2 638.5H776.0M788.6 638.5H791.3M771.2 639.5H773.7M788.3 639.5H789.6M771.2 640.5H773.7M788.3 640.5H789.6M788.2 641.5H790.8M788.2 642.5H790.8M784.8 643.5H786.2M784.8 644.5H786.2M784.8 645.5H786.2M771.2 646.5H772.8M789.0 647.5H791.3M789.0 648.5H791.3M789.0 649.5H791.3M771.2 650.5H775.2M788.8 650.5H791.6M785.2 650.5H786.2M771.2 652.5H788.3M771.2 653.5H786.7M788.3 653.5H790.2M771.2 654.5H786.7M788.3 654.5H790.2M771.2 656.5H774.2M789.4 656.5H791.3M788.1 657.5H790.6M793.3 657.5H794.9M771.2 658.5H774.4M771.2 659.5H774.4M771.2 660.5H774.4M771.2 661.5H774.4M789.4 661.5H791.4M784.8 661.5H786.4M788.5 662.5H790.3M784.3 662.5H786.1M788.5 663.5H790.3M784.3 663.5H786.1M771.2 665.5H772.8M794.2 667.5H796.2M794.2 668.5H796.2M771.2 669.5H774.0M771.2 670.5H774.1M789.3 670.5H791.8M784.7 670.5H786.3M788.6 671.5H790.2M788.6 672.5H790.2M788.6 673.5H790.2M771.2 674.5H776.0M771.2 675.5H776.0M788.8 676.5H790.5M771.2 677.5H777.1M771.2 678.5H773.4M788.7 681.5H790.4M788.7 682.5H790.4M771.2 683.5H774.3M784.9 683.5H786.6M793.8 683.5H795.9M771.2 684.5H774.3M784.9 684.5H786.6M793.8 684.5H795.9M789.4 686.5H792.1M789.4 687.5H792.1M771.2 689.5H773.9M771.2 690.5H774.7M771.2 691.5H775.7M771.2 692.5H774.8M788.9 692.5H790.5M784.9 692.5H786.2M771.2 693.5H774.5M771.2 694.5H775.1M771.2 695.5H775.1M788.6 696.5H790.4M789.2 697.5H790.8M785.2 697.5H786.4M771.2 698.5H773.8M785.1 698.5H786.1M788.9 699.5H790.8M788.5 700.5H790.9M771.2 701.5H774.2M771.2 702.5H774.2M771.2 703.5H788.2M784.7 703.5H786.1M771.2 704.5H788.2M784.7 704.5H786.1M771.2 705.5H788.2M784.7 705.5H786.1M771.2 706.5H775.6M788.7 707.5H790.1M793.4 708.5H794.6M771.2 709.5H773.5M771.2 710.5H773.5M771.2 711.5H773.5M771.2 712.5H772.8M789.4 713.5H791.3M771.2 715.5H775.8M784.4 715.5H785.9M794.3 716.5H795.7M794.3 717.5H795.7M771.2 718.5H776.0M785.2 718.5H786.3M771.2 719.5H776.0M785.2 719.5H786.3M771.2 720.5H776.0M785.2 720.5H786.3M771.2 721.5H773.3M789.0 721.5H791.2M771.2 723.5H775.1M788.3 723.5H790.0M785.0 723.5H786.1M771.2 724.5H775.1M794.3 728.5H796.4M794.3 729.5H796.4M771.2 731.5H774.2M771.2 732.5H778.5M788.5 732.5H790.9M771.2 733.5H775.6M793.7 733.5H795.7M771.2 734.5H777.4M788.9 734.5H791.1M793.8 734.5H795.5M771.2 735.5H777.4M788.9 735.5H791.1M793.8 735.5H795.5M771.2 737.5H776.1M771.2 738.5H773.3M789.0 738.5H790.8M771.2 739.5H773.3M789.0 739.5H790.8M771.2 740.5H772.7M771.2 741.5H772.7M771.2 742.5H776.0M784.9 742.5H786.4M784.4 743.5H785.5M771.2 744.5H774.4M771.2 745.5H773.2M784.8 746.5H785.8M784.8 747.5H785.8M784.8 748.5H785.8M771.2 749.5H775.2M771.2 750.5H774.1M784.9 750.5H786.3M771.2 751.5H774.6M784.5 751.5H786.0M788.5 752.5H790.6M771.2 753.5H773.7M784.7 754.5H786.0M771.2 756.5H773.2M771.2 757.5H774.0M784.8 757.5H786.5M771.2 758.5H775.2M784.5 758.5H786.0M771.2 759.5H775.2M784.5 759.5H786.0M771.2 764.5H774.8M771.2 765.5H772.8M771.2 766.5H774.5M784.4 767.5H785.9M771.2 768.5H775.0M789.1 768.5H791.2M788.1 770.5H789.8M784.9 771.5H786.2M771.2 772.5H777.6M771.2 773.5H777.6M771.2 774.5H775.4M784.9 774.5H786.0M771.2 776.5H773.4M771.2 777.5H788.8M771.2 778.5H782.1M788.7 778.5H790.3M771.2 779.5H782.1M788.7 779.5H790.3M771.2 780.5H782.1M788.7 780.5H790.3M771.2 781.5H773.5M771.2 782.5H774.5M788.5 783.5H790.2M793.9 783.5H795.3M788.7 784.5H790.2M789.4 785.5H791.6M789.4 786.5H791.6M771.2 787.5H772.8M789.3 787.5H791.6M771.2 788.5H775.3M785.2 788.5H786.8M793.9 788.5H795.2M771.2 790.5H790.0M789.4 791.5H791.4M785.1 791.5H786.8M789.4 792.5H791.4M785.1 792.5H786.8M789.4 793.5H791.4M785.1 793.5H786.8M771.2 795.5H775.6M784.6 795.5H785.7M793.4 795.5H794.8M771.2 796.5H775.6M784.6 796.5H785.7M793.4 796.5H794.8M771.2 797.5H775.6M784.6 797.5H785.7M793.4 797.5H794.8M771.2 798.5H782.7M789.1 798.5H791.4M771.2 799.5H782.7M789.1 799.5H791.4M771.2 800.5H782.7M789.1 800.5H791.4M771.2 801.5H785.8M789.0 801.5H791.3M771.2 802.5H785.8M789.0 802.5H791.3M771.2 803.5H785.6M771.2 804.5H773.9M788.2 804.5H790.9M793.5 804.5H795.5M785.0 805.5H786.4M771.2 806.5H773.3M771.2 807.5H775.9M771.2 808.5H776.1M771.2 810.5H773.0M771.2 811.5H773.0M789.1 812.5H790.3M789.1 813.5H790.3M789.1 814.5H790.3M771.2 815.5H788.7M771.2 819.5H786.3M788.2 819.5H790.9M771.2 820.5H775.0M785.0 821.5H786.5M771.2 823.5H773.1M789.0 823.5H790.5M793.8 824.5H795.4M793.8 825.5H795.4M793.8 826.5H795.4M771.2 827.5H772.8M771.2 828.5H772.8M771.2 829.5H772.8M771.2 830.5H775.9M789.3 830.5H792.0M785.0 830.5H786.4M771.2 831.5H775.9M789.3 831.5H792.0M785.0 831.5H786.4M771.2 832.5H775.9M789.3 832.5H792.0M785.0 832.5H786.4M793.4 833.5H795.2M785.1 834.5H786.5M771.2 835.5H772.8M771.2 839.5H780.0M771.2 840.5H780.0M771.2 841.5H774.2M788.3 841.5H790.9M771.2 843.5H774.7M771.2 844.5H774.7M771.2 845.5H774.7M771.2 846.5H773.7M771.2 847.5H773.7M771.2 848.5H773.7M771.2 851.5H774.7M789.3 851.5H791.4M793.7 851.5H795.1M771.2 852.5H774.7M789.3 852.5H791.4M793.7 852.5H795.1M793.8 853.5H795.6M793.8 854.5H795.6M788.1 855.5H790.2M788.1 856.5H790.2M793.5 857.5H794.9M793.5 858.5H794.9M793.5 859.5H794.9M771.2 861.5H788.8M788.8 862.5H791.2M771.2 863.5H773.7M771.2 864.5H773.7M789.1 865.5H791.8M794.4 865.5H795.6M789.1 866.5H791.8M794.4 866.5H795.6M771.2 872.5H775.1M788.8 872.5H790.5M771.2 873.5H775.1M788.8 873.5H790.5M771.2 874.5H773.9M789.1 874.5H791.7M784.3 874.5H786.0M793.5 874.5H794.7M771.2 875.5H773.9M789.1 875.5H791.7M784.3 875.5H786.0M793.5 875.5H794.7M771.2 876.5H773.9M789.1 876.5H791.7M784.3 876.5H786.0M793.5 876.5H794.7M771.2 877.5H773.1M771.2 878.5H773.1M771.2 879.5H778.5M771.2 880.5H778.5M771.2 881.5H778.5M771.2 883.5H781.7M771.2 884.5H781.7M771.2 885.5H781.7M784.3 886.5H785.9M784.3 887.5H785.9M784.3 888.5H785.9M785.2 889.5H786.9M789.4 890.5H792.1M771.2 891.5H773.5M771.2 895.5H773.5M771.2 896.5H774.7M788.0 899.5H790.2M788.0 900.5H790.2M788.0 901.5H790.2M771.2 902.5H783.2M771.2 903.5H783.2M771.2 904.5H774.2M788.5 904.5H791.1M784.7 904.5H786.4M771.2 905.5H774.3M788.7 905.5H790.3M784.7 905.5H785.7M793.1 906.5H795.1M771.2 912.5H775.2M771.2 913.5H775.2M771.2 914.5H775.2M789.3 918.5H791.3M784.7 918.5H785.7M771.2 919.5H773.1M789.4 919.5H791.8M785.0 920.5H786.2M785.0 921.5H786.2M785.0 922.5H786.2M793.9 923.5H795.1M789.4 924.5H792.2M771.2 925.5H787.8M788.2 925.5H790.8M771.2 926.5H787.8M788.2 926.5H790.8M771.2 930.5H774.2M794.5 930.5H795.6M771.2 931.5H774.2M794.5 931.5H795.6M771.2 932.5H774.2M794.5 932.5H795.6M771.2 933.5H773.2M771.2 934.5H773.2M771.2 935.5H773.2M771.2 936.5H774.5M788.6 936.5H791.3M771.2 937.5H774.5M788.6 937.5H791.3M771.2 938.5H774.5M788.6 938.5H791.3M765.6 942.5H768.0M771.2 943.5H773.2M784.5 943.5H786.2M771.2 944.5H773.2M784.5 944.5H786.2M764.6 945.5H769.3M771.2 945.5H773.6M788.7 945.5H791.2M793.5 945.5H795.0M765.5 946.5H771.2M771.2 947.5H772.8M771.2 948.5H772.9M789.5 948.5H791.7M763.3 949.5H766.4M771.2 949.5H783.6M763.3 950.5H766.4M771.2 950.5H783.6M763.1 951.5H767.2M771.2 952.5H774.5M771.2 953.5H774.5M771.2 954.5H774.5M762.3 956.5H765.8M771.2 956.5H774.1M788.2 956.5H790.9M788.2 958.5H789.7M788.2 959.5H789.7M764.5 960.5H769.3M784.3 960.5H785.4M771.2 961.5H774.3M788.1 961.5H789.6M771.2 964.5H777.1M784.6 964.5H786.3M771.2 965.5H777.1M784.6 965.5H786.3M771.2 966.5H777.1M784.6 966.5H786.3M762.7 967.5H765.6M788.6 967.5H790.0M762.7 968.5H765.6M788.6 968.5H790.0M762.7 969.5H765.6M788.6 969.5H790.0M771.2 970.5H788.7M765.0 971.5H769.6M771.2 971.5H773.8M788.8 971.5H790.9M784.5 971.5H786.0M765.0 972.5H769.6M771.2 972.5H773.8M788.8 972.5H790.9M784.5 972.5H786.0M762.8 973.5H766.2M771.2 973.5H776.1M788.3 973.5H790.8M793.8 973.5H796.0M793.6 974.5H795.2M789.3 975.5H790.5M763.4 976.5H769.1M771.2 977.5H774.0M762.5 978.5H765.8M789.0 978.5H791.6M764.7 979.5H767.2M771.2 979.5H774.3M785.0 979.5H786.4M784.5 980.5H786.0M794.4 980.5H796.3M784.5 981.5H786.0M794.4 981.5H796.3M784.5 982.5H786.0M794.4 982.5H796.3M762.5 983.5H766.0M771.2 983.5H781.2M784.6 983.5H785.6M762.2 984.5H766.4M771.2 984.5H773.8M762.2 985.5H766.4M771.2 985.5H773.8M763.8 986.5H767.5M771.2 986.5H787.6M785.1 987.5H786.7M793.4 987.5H795.4M785.1 988.5H786.7M793.4 988.5H795.4M771.2 989.5H773.6M789.0 990.5H791.3M785.2 990.5H786.5M771.2 991.5H777.9M784.5 991.5H786.1M771.2 992.5H777.9M784.5 992.5H786.1M784.5 997.5H785.6M784.5 998.5H785.6M763.7 999.5H769.3M784.7 999.5H786.4M764.1 1000.5H768.4M764.1 1001.5H768.4M789.0 1002.5H791.8M771.2 1006.5H780.3M788.4 1006.5H789.9M762.5 1007.5H766.2M771.2 1008.5H775.5M789.3 1008.5H791.3" stroke="#000" stroke-width="1" fill="none"/></g><path d="M168,22.2 L400,21.3 L757,19.6" stroke="#555" stroke-width="0.9" fill="none"/><path d="M170,22.3 H222 M240,21.9 H272 M585,20.6 H632 M650,20.2 H757" stroke="#000" stroke-width="1.5" fill="none"/><path d="M32,20.3 H86" stroke="#333" stroke-width="1.3" fill="none"/><path d="M96,1 H190 M5,1.5 H22 M40,1.5 H50 M64,1.5 H72 M245,1 H270 M300,1 H318" stroke="#ccc" stroke-width="0.8" fill="none"/><path d="M45,1 V9 M67,1 V10" stroke="#ccc" stroke-width="0.8" fill="none"/><path d="M97,22 H120 M128,21.5 H150" stroke="#bbb" stroke-width="0.8" stroke-dasharray="2 3" fill="none"/><path d="M715,915 H724 M0,997.5 H20 M0,999 H10" stroke="#666" stroke-width="0.8" fill="none"/>
<text x="34.5" y="67.5" font-family="Liberation Sans" font-size="20" font-weight="bold" fill="#000" text-anchor="start" stroke="#000" stroke-width="0.45" textLength="50.5" lengthAdjust="spacingAndGlyphs">8-100</text>
<text x="176" y="67" font-family="Liberation Sans" font-size="16.5" font-weight="bold" fill="#000" text-anchor="start" stroke="#000" stroke-width="0.45" textLength="147" lengthAdjust="spacingAndGlyphs">WIRING HARNESS</text>
<line x1="331" y1="61" x2="341" y2="61" stroke="#000" stroke-width="1.7"/>
<text x="347" y="67" font-family="Liberation Sans" font-size="14.5" font-weight="bold" fill="#000" text-anchor="start" stroke="#000" stroke-width="0.45" textLength="225" lengthAdjust="spacingAndGlyphs">Central Locking System Circuit</text>
<line x1="34" y1="73.3" x2="716" y2="73.3" stroke="#000" stroke-width="2.4"/>
<line x1="34" y1="88" x2="756" y2="88" stroke="#000" stroke-width="1.6"/>
<line x1="34.5" y1="88" x2="34.5" y2="995.5" stroke="#000" stroke-width="1.5"/>
<line x1="34" y1="995" x2="720" y2="995" stroke="#000" stroke-width="1.1"/>
<text x="57" y="118" font-family="Liberation Sans" font-size="19" font-weight="bold" fill="#000" text-anchor="start" stroke="#000" stroke-width="0.45" textLength="21" lengthAdjust="spacingAndGlyphs">22</text>
<text x="90.5" y="118" font-family="Liberation Sans" font-size="19" font-weight="bold" fill="#000" text-anchor="start" stroke="#000" stroke-width="0.45" textLength="366" lengthAdjust="spacingAndGlyphs">CENTRAL LOCKING SYSTEM CIRCUIT</text>
<line x1="245.5" y1="998.5" x2="495" y2="998.5" stroke="#000" stroke-width="1.2"/>
<line x1="245.5" y1="998.5" x2="245.5" y2="1009" stroke="#000" stroke-width="1.2"/>
<line x1="495" y1="998.5" x2="495" y2="1009" stroke="#000" stroke-width="1.2"/>
<text x="255.5" y="1011.4" font-family="Liberation Sans" font-size="13" font-weight="bold" fill="#000" text-anchor="start" textLength="84.5" lengthAdjust="spacingAndGlyphs">TSB Revision</text>
<rect x="121.5" y="212" width="51.00" height="35.00" fill="#fff" stroke="#000" stroke-width="1.5"/>
<text x="129" y="207.5" font-family="Liberation Sans" font-size="11.5" font-weight="normal" fill="#000" text-anchor="start" stroke="#000" stroke-width="0.2" textLength="36" lengthAdjust="spacingAndGlyphs">Battery</text>
<polyline points="104.2,418 104.5,229.5 122.5,229.5" fill="none" stroke="#000" stroke-width="1.5" stroke-linejoin="miter"/>
<circle cx="127.5" cy="229.5" r="4.6" fill="#fff" stroke="#000" stroke-width="1.5"/>
<line x1="123" y1="229.5" x2="132" y2="229.5" stroke="#000" stroke-width="1.1"/>
<circle cx="164.5" cy="229" r="8.2" fill="#fff" stroke="#000" stroke-width="1.5"/>
<circle cx="164.5" cy="229" r="4.6" fill="#fff" stroke="#000" stroke-width="1.5"/>
<line x1="161" y1="229" x2="168" y2="229" stroke="#000" stroke-width="1.1"/>
<line x1="164.5" y1="225.5" x2="164.5" y2="232.5" stroke="#000" stroke-width="1.1"/>
<path d="M172,226.7 H187.5 M172,231.3 H187.5" fill="none" stroke="#000" stroke-width="1.2"/>
<rect x="172.6" y="227.3" width="15" height="3.4" fill="#fff"/>
<rect x="181" y="207" width="88.50" height="42.50" fill="#fff" stroke="#000" stroke-width="1.5"/>
<rect x="180" y="227.3" width="8" height="3.4" fill="#fff"/>
<path d="M172,226.7 H187.5 M172,231.3 H187.5" fill="none" stroke="#000" stroke-width="1.2"/>
<rect x="187.5" y="218" width="11.50" height="21.00" fill="#fff" stroke="#000" stroke-width="1.5"/>
<rect x="253" y="218" width="12.00" height="21.00" fill="#fff" stroke="#000" stroke-width="1.5"/>
<path d="M199,228 C207,223 214,223.5 222,227 S240,232 253,227.5" fill="none" stroke="#000" stroke-width="1.3"/>
<text transform="translate(211,221.3) scale(1,1.19)" font-family="Liberation Mono" font-size="12.4" font-weight="normal" fill="#000" stroke="#000" stroke-width="0.25" textLength="29" lengthAdjust="spacingAndGlyphs">1<tspan font-family="Liberation Sans" font-size="11.59" dx="0.50">0</tspan><tspan font-family="Liberation Sans" font-size="11.59" dx="0.50">0</tspan><tspan dx="0.50">A</tspan></text>
<text x="190.8" y="260.5" font-family="Liberation Sans" font-size="11.5" font-weight="normal" fill="#000" text-anchor="start" stroke="#000" stroke-width="0.2" textLength="24" lengthAdjust="spacingAndGlyphs">Main</text>
<text x="190.8" y="272" font-family="Liberation Sans" font-size="11.5" font-weight="normal" fill="#000" text-anchor="start" stroke="#000" stroke-width="0.2" textLength="33" lengthAdjust="spacingAndGlyphs">fusible</text>
<text x="190.8" y="283" font-family="Liberation Sans" font-size="11.5" font-weight="normal" fill="#000" text-anchor="start" stroke="#000" stroke-width="0.2" textLength="16.5" lengthAdjust="spacingAndGlyphs">link</text>
<line x1="265" y1="228" x2="269.5" y2="228" stroke="#000" stroke-width="1.5"/>
<line x1="269.5" y1="228" x2="349.5" y2="228" stroke="#000" stroke-width="1.5"/>
<text transform="translate(272,226) scale(1,1.19)" font-family="Liberation Mono" font-size="12.4" font-weight="normal" fill="#000" stroke="#000" stroke-width="0.25" textLength="21" lengthAdjust="spacingAndGlyphs">5-W</text>
<path d="M313.95,220.50L318.55,220.50M315.10,218.51L317.40,222.49M317.40,218.51L315.10,222.49" stroke="#000" stroke-width="1.15" fill="none"/>
<text transform="translate(319.75,221.8)" font-family="Liberation Sans" font-size="7.3" font-weight="bold">2</text>
<text transform="translate(326.2,226) scale(1,1.19)" font-family="Liberation Mono" font-size="12.4" font-weight="normal" fill="#000" stroke="#000" stroke-width="0.25" textLength="21.3" lengthAdjust="spacingAndGlyphs">5-W</text>
<path d="M313.95,234.70L318.55,234.70M315.10,232.71L317.40,236.69M317.40,232.71L315.10,236.69" stroke="#000" stroke-width="1.15" fill="none"/>
<text transform="translate(319.75,236.0)" font-family="Liberation Sans" font-size="7.3" font-weight="bold">1</text>
<text transform="translate(326.2,241) scale(1,1.19)" font-family="Liberation Mono" font-size="12.4" font-weight="normal" fill="#000" stroke="#000" stroke-width="0.25" textLength="21.3" lengthAdjust="spacingAndGlyphs">3-W</text>
<rect x="349.5" y="218" width="14.50" height="35.75" fill="#fff" stroke="#000" stroke-width="1.5"/>
<text x="345" y="265" font-family="Liberation Sans" font-size="10.5" font-weight="normal" fill="#000" text-anchor="start" stroke="#000" stroke-width="0.2" textLength="22.5" lengthAdjust="spacingAndGlyphs">B-72</text>
<text transform="translate(367.5,226) scale(1,1.19)" font-family="Liberation Mono" font-size="12.4" font-weight="normal" fill="#000" stroke="#000" stroke-width="0.25" textLength="22" lengthAdjust="spacingAndGlyphs">5-W</text>
<text transform="translate(367.5,241) scale(1,1.19)" font-family="Liberation Mono" font-size="12.4" font-weight="normal" fill="#000" stroke="#000" stroke-width="0.25" textLength="22" lengthAdjust="spacingAndGlyphs">3-W</text>
<polyline points="349.5,243.75 298.25,243.75 298.25,404" fill="none" stroke="#000" stroke-width="1.5" stroke-linejoin="miter"/>
<line x1="364" y1="228" x2="410" y2="228" stroke="#000" stroke-width="1.5"/>
<polyline points="364,243.75 385.5,243.75 385.5,279 542,279 542,228.25 500.5,228.25" fill="none" stroke="#000" stroke-width="1.5" stroke-linejoin="miter"/>
<rect x="398" y="203.5" width="112.00" height="50.00" fill="none" stroke="#000" stroke-width="1.5"/>
<rect x="410" y="221" width="14.00" height="14.75" fill="#fff" stroke="#000" stroke-width="1.5"/>
<rect x="486.75" y="220.75" width="13.75" height="14.75" fill="#fff" stroke="#000" stroke-width="1.5"/>
<path d="M424,228 C432,221.5 440,219.5 448,222.5 S470,234.5 486.75,228.5" fill="none" stroke="#000" stroke-width="1.2"/>
<path d="M424,230.5 C432,224 440,222.5 448,225.5 S470,237.5 486.75,231" fill="none" stroke="#000" stroke-width="1.2"/>
<text x="417.5" y="200.3" font-family="Liberation Sans" font-size="11.5" font-weight="normal" fill="#000" text-anchor="start" stroke="#000" stroke-width="0.2" textLength="77.5" lengthAdjust="spacingAndGlyphs">Sub fusible link</text>
<text transform="translate(432.5,217.5) scale(1,1.19)" font-family="Liberation Mono" font-size="12.4" font-weight="normal" fill="#000" stroke="#000" stroke-width="0.25" textLength="44.5" lengthAdjust="spacingAndGlyphs"><tspan font-family="Liberation Sans" font-size="11.59" dx="0.50">0</tspan><tspan dx="0.50">.85-R</tspan></text>
<text transform="translate(513.75,225) scale(1,1.19)" font-family="Liberation Mono" font-size="12.4" font-weight="normal" fill="#000" stroke="#000" stroke-width="0.25" textLength="21.5" lengthAdjust="spacingAndGlyphs">3-W</text>
<rect x="352.4" y="171.3" width="11.3" height="9.7" fill="#000"/>
<rect x="354.8" y="174.3" width="6.6" height="5.2" fill="#ddd"/>
<rect x="357.2" y="174.8" width="1.8" height="4.2" fill="#000"/>
<rect x="350.25" y="181" width="15.35" height="21.25" fill="#fff" stroke="#000" stroke-width="1.3"/>
<line x1="350.25" y1="192" x2="365.6" y2="192" stroke="#000" stroke-width="1.4"/>
<text transform="translate(355.3,189.1) scale(1,1.05)" font-family="Liberation Mono" font-size="7.4" font-weight="bold" fill="#000">W</text>
<text transform="translate(355.3,200.5) scale(1,1.05)" font-family="Liberation Mono" font-size="7.4" font-weight="bold" fill="#000">W</text>
<line x1="361.5" y1="185.5" x2="374.8" y2="185.5" stroke="#000" stroke-width="1.1"/>
<line x1="361.5" y1="197.2" x2="374.8" y2="197.2" stroke="#000" stroke-width="1.1"/>
<path d="M376.10,185.70L381.30,185.70M377.40,183.45L380.00,187.95M380.00,183.45L377.40,187.95" stroke="#000" stroke-width="1.15" fill="none"/>
<text transform="translate(382.2,187.0)" font-family="Liberation Sans" font-size="7.6" font-weight="bold">1</text>
<path d="M376.10,197.90L381.30,197.90M377.40,195.65L380.00,200.15M380.00,195.65L377.40,200.15" stroke="#000" stroke-width="1.15" fill="none"/>
<text transform="translate(382.2,199.20000000000002)" font-family="Liberation Sans" font-size="7.6" font-weight="bold">2</text>
<rect x="287" y="298" width="22.50" height="14.00" fill="#fff" stroke="#000" stroke-width="1.5"/>
<text x="312.5" y="309.5" font-family="Liberation Sans" font-size="10.5" font-weight="normal" fill="#000" text-anchor="start" stroke="#000" stroke-width="0.2" textLength="23" lengthAdjust="spacingAndGlyphs">B-68</text>
<text transform="translate(297,295) rotate(-90) scale(1,1.19)" font-family="Liberation Mono" font-size="12.4" font-weight="normal" fill="#000" stroke="#000" stroke-width="0.25" textLength="22.5" lengthAdjust="spacingAndGlyphs">3-W</text>
<text transform="translate(297,335.5) rotate(-90) scale(1,1.19)" font-family="Liberation Mono" font-size="12.4" font-weight="normal" fill="#000" stroke="#000" stroke-width="0.25" textLength="22" lengthAdjust="spacingAndGlyphs">3-W</text>
<text transform="translate(295.5,402.5) rotate(-90) scale(1,1.19)" font-family="Liberation Mono" font-size="12.4" font-weight="normal" fill="#000" stroke="#000" stroke-width="0.25" textLength="20" lengthAdjust="spacingAndGlyphs">3-W</text>
<rect x="253.25" y="286" width="11.75" height="10" fill="#000"/>
<rect x="255.8" y="288.8" width="6.4" height="5.6" fill="#fff"/>
<rect x="258.4" y="289.6" width="1.7" height="4.4" fill="#000"/>
<rect x="251.6" y="296.3" width="15.00" height="21.30" fill="#fff" stroke="#000" stroke-width="1.7"/>
<line x1="251.6" y1="306.25" x2="266.6" y2="306.25" stroke="#000" stroke-width="1"/>
<text transform="translate(256.6,314.2) scale(1,1.05)" font-family="Liberation Mono" font-size="6.3" font-weight="bold" fill="#000">W</text>
<circle cx="298.25" cy="362.5" r="3.4" fill="#000"/>
<polygon points="294.7,403.5 301.8,403.5 298.25,416" fill="#000"/>
<text transform="translate(305,360) scale(1,1.19)" font-family="Liberation Mono" font-size="12.4" font-weight="normal" fill="#000" stroke="#000" stroke-width="0.25" textLength="28.75" lengthAdjust="spacingAndGlyphs">2-LR</text>
<line x1="298.25" y1="362.8" x2="469.5" y2="362.8" stroke="#000" stroke-width="1.5"/>
<text x="256.25" y="428" font-family="Liberation Sans" font-size="11.5" font-weight="normal" fill="#000" text-anchor="start" stroke="#000" stroke-width="0.2" textLength="86.3" lengthAdjust="spacingAndGlyphs">To multi-purpose</text>
<text x="256.25" y="439.5" font-family="Liberation Sans" font-size="11.5" font-weight="normal" fill="#000" text-anchor="start" stroke="#000" stroke-width="0.2" textLength="21.5" lengthAdjust="spacingAndGlyphs">fuse</text>
<rect x="469.5" y="352" width="53.00" height="21.75" fill="#fff" stroke="#000" stroke-width="1.5"/>
<path d="M482,363.3 C490,357.5 495,358.5 499,362 S506,366.5 510.8,363.6" fill="none" stroke="#000" stroke-width="1.3"/>
<circle cx="479" cy="363.5" r="3" fill="#fff" stroke="#000" stroke-width="1.5"/>
<circle cx="513.75" cy="363.5" r="3" fill="#fff" stroke="#000" stroke-width="1.5"/>
<text transform="translate(438.75,360) scale(1,1.19)" font-family="Liberation Mono" font-size="12.4" font-weight="normal" fill="#000" stroke="#000" stroke-width="0.25" textLength="29.5" lengthAdjust="spacingAndGlyphs">2-LR</text>
<text transform="translate(524.5,360) scale(1,1.19)" font-family="Liberation Mono" font-size="12.4" font-weight="normal" fill="#000" stroke="#000" stroke-width="0.25" textLength="30.5" lengthAdjust="spacingAndGlyphs">2-LR</text>
<polyline points="522.5,362.8 563.2,362.8 562.6,490 562.3,772" fill="none" stroke="#000" stroke-width="1.5" stroke-linejoin="miter"/>
<text x="454.25" y="345" font-family="Liberation Sans" font-size="11.5" font-weight="normal" fill="#000" text-anchor="start" stroke="#000" stroke-width="0.2" textLength="76.5" lengthAdjust="spacingAndGlyphs">Dedicated fuse</text>
<text x="485" y="384.5" font-family="Liberation Sans" font-size="10.5" font-weight="normal" fill="#000" text-anchor="start" stroke="#000" stroke-width="0.2" textLength="22" lengthAdjust="spacingAndGlyphs">C-81</text>
<rect x="481.6" y="296.5" width="26.50" height="12.70" fill="#fff" stroke="#000" stroke-width="1.7"/>
<line x1="488.4" y1="303" x2="488.4" y2="314" stroke="#000" stroke-width="1.4"/>
<line x1="502.2" y1="303" x2="502.2" y2="314" stroke="#000" stroke-width="1.4"/>
<path d="M489.5,301.6 C493,299 497,304.5 501,302.2" fill="none" stroke="#000" stroke-width="1.1"/>
<circle cx="488.4" cy="302.7" r="1.7" fill="#fff" stroke="#000" stroke-width="1.1"/>
<circle cx="502.2" cy="302.7" r="1.7" fill="#fff" stroke="#000" stroke-width="1.1"/>
<rect x="481.6" y="314.2" width="26.50" height="13.00" fill="#fff" stroke="#000" stroke-width="1.7"/>
<line x1="495" y1="314.2" x2="495" y2="327.2" stroke="#000" stroke-width="1"/>
<text transform="translate(484.7,323.7) scale(1,1.05)" font-family="Liberation Mono" font-size="6.6" font-weight="bold" fill="#000" textLength="7.6" lengthAdjust="spacingAndGlyphs">LR</text>
<text transform="translate(497.6,323.7) scale(1,1.05)" font-family="Liberation Mono" font-size="6.6" font-weight="bold" fill="#000" textLength="7.6" lengthAdjust="spacingAndGlyphs">LR</text>
<text transform="translate(102.4,314.3) rotate(-90) scale(1,1.19)" font-family="Liberation Mono" font-size="12.4" font-weight="normal" fill="#000" stroke="#000" stroke-width="0.25" textLength="36" lengthAdjust="spacingAndGlyphs">2<tspan font-family="Liberation Sans" font-size="11.59" dx="0.50">0</tspan><tspan dx="0.50">-BY</tspan></text>
<text transform="translate(102.4,414) rotate(-90) scale(1,1.19)" font-family="Liberation Mono" font-size="12.4" font-weight="normal" fill="#000" stroke="#000" stroke-width="0.25" textLength="36" lengthAdjust="spacingAndGlyphs">2<tspan font-family="Liberation Sans" font-size="11.59" dx="0.50">0</tspan><tspan dx="0.50">-BY</tspan></text>
<circle cx="103.6" cy="321.8" r="4" fill="#fff" stroke="#000" stroke-width="1.5"/>
<line x1="108.6" y1="313.7" x2="108.6" y2="330.6" stroke="#000" stroke-width="1.2"/>
<line x1="111.8" y1="317" x2="111.8" y2="328" stroke="#000" stroke-width="1.2"/>
<line x1="115.2" y1="319.3" x2="115.2" y2="326" stroke="#000" stroke-width="1.2"/>
<rect x="119.3" y="316.1" width="12.8" height="13.2" fill="#000"/>
<text x="125.7" y="326.5" font-family="Liberation Sans" font-size="10" font-weight="normal" fill="#fff" text-anchor="middle">2</text>
<circle cx="103.5" cy="421.6" r="4" fill="#fff" stroke="#000" stroke-width="1.5"/>
<line x1="94.5" y1="426" x2="111.8" y2="426" stroke="#000" stroke-width="1.2"/>
<line x1="97.7" y1="429" x2="109.5" y2="429" stroke="#000" stroke-width="1.2"/>
<line x1="100" y1="432" x2="106.7" y2="432" stroke="#000" stroke-width="1.2"/>
<rect x="97.3" y="436.7" width="12.7" height="12.6" fill="#000"/>
<text x="103.6" y="446.7" font-family="Liberation Sans" font-size="10" font-weight="normal" fill="#fff" text-anchor="middle">3</text>
<polyline points="278.5,475 131.25,475 131.25,611.25 278.5,611.25" fill="none" stroke="#000" stroke-width="1.5" stroke-linejoin="miter"/>
<line x1="278.5" y1="475" x2="278.5" y2="611.25" stroke="#000" stroke-width="1"/>
<polyline points="278.5,483 293.25,483 293.25,604.25 278.5,604.25" fill="none" stroke="#000" stroke-width="1.5" stroke-linejoin="miter"/>
<text x="74.5" y="521.6" font-family="Liberation Sans" font-size="11.5" font-weight="normal" fill="#000" text-anchor="start" stroke="#000" stroke-width="0.2" textLength="49.5" lengthAdjust="spacingAndGlyphs">Door lock</text>
<text x="74.5" y="533" font-family="Liberation Sans" font-size="11.5" font-weight="normal" fill="#000" text-anchor="start" stroke="#000" stroke-width="0.2" textLength="35.5" lengthAdjust="spacingAndGlyphs">control</text>
<text x="74.5" y="544.4" font-family="Liberation Sans" font-size="11.5" font-weight="normal" fill="#000" text-anchor="start" stroke="#000" stroke-width="0.2" textLength="19" lengthAdjust="spacingAndGlyphs">unit</text>
<rect x="145.75" y="504.5" width="58.75" height="43.00" fill="#fff" stroke="#000" stroke-width="1.5"/>
<text x="160.75" y="525.5" font-family="Liberation Sans" font-size="11.5" font-weight="normal" fill="#000" text-anchor="start" stroke="#000" stroke-width="0.2" textLength="27" lengthAdjust="spacingAndGlyphs">Logic</text>
<text x="160.5" y="536.25" font-family="Liberation Sans" font-size="11.5" font-weight="normal" fill="#000" text-anchor="start" stroke="#000" stroke-width="0.2" textLength="30" lengthAdjust="spacingAndGlyphs">circuit</text>
<polyline points="188.75,504.5 188.75,490 278.5,490" fill="none" stroke="#000" stroke-width="1.5" stroke-linejoin="miter"/>
<polygon points="227.3,490 234.8,485.8 234.8,494.2" fill="#000"/>
<line x1="227.3" y1="485.5" x2="227.3" y2="494.5" stroke="#000" stroke-width="1.4"/>
<polyline points="188.75,547.5 188.75,564.25 278.5,564.25" fill="none" stroke="#000" stroke-width="1.5" stroke-linejoin="miter"/>
<polyline points="174.5,547.5 174.5,580.5 278.5,580.5" fill="none" stroke="#000" stroke-width="1.5" stroke-linejoin="miter"/>
<polyline points="160,547.5 160,595.75 278.5,595.75" fill="none" stroke="#000" stroke-width="1.5" stroke-linejoin="miter"/>
<line x1="204.5" y1="511.25" x2="224.5" y2="511.25" stroke="#000" stroke-width="1.5"/>
<line x1="224.5" y1="505" x2="224.5" y2="518" stroke="#000" stroke-width="1.8"/>
<polyline points="224.5,509 231.5,504.5 278.5,504.5" fill="none" stroke="#000" stroke-width="1.5" stroke-linejoin="miter"/>
<polyline points="224.5,513.5 233.25,519.5 233.25,564.25" fill="none" stroke="#000" stroke-width="1.5" stroke-linejoin="miter"/>
<polygon points="233.25,519.8 228.2,518.8 230.6,514.8" fill="#000"/>
<circle cx="263" cy="504.5" r="3.4" fill="#000"/>
<line x1="263" y1="504.5" x2="263" y2="564.25" stroke="#000" stroke-width="1.5"/>
<polygon points="263.1,514 258.7,521.6 267.7,521.6" fill="#000"/>
<path d="M256.8,516.6 L258.3,514.2 H267.9 L269.4,511.8" fill="none" stroke="#000" stroke-width="1.4"/>
<line x1="204.5" y1="539.5" x2="210" y2="539.5" stroke="#000" stroke-width="1.5"/>
<line x1="210" y1="532.5" x2="210" y2="546.25" stroke="#000" stroke-width="1.8"/>
<polyline points="210,537 220,533 278.5,533" fill="none" stroke="#000" stroke-width="1.5" stroke-linejoin="miter"/>
<polyline points="210,542 218.25,548.75 218.25,564.25" fill="none" stroke="#000" stroke-width="1.5" stroke-linejoin="miter"/>
<polygon points="218.25,549 213.2,548 215.6,544" fill="#000"/>
<circle cx="248.75" cy="533" r="3.4" fill="#000"/>
<line x1="248.75" y1="533" x2="248.75" y2="564.25" stroke="#000" stroke-width="1.5"/>
<polygon points="248.9,542.2 244.4,549.8 253.4,549.8" fill="#000"/>
<path d="M242.6,544.8 L244.1,542.4 H253.7 L255.2,540" fill="none" stroke="#000" stroke-width="1.4"/>
<circle cx="218.25" cy="564.25" r="3.4" fill="#000"/>
<circle cx="233.25" cy="564.25" r="3.4" fill="#000"/>
<circle cx="248.75" cy="564.25" r="3.4" fill="#000"/>
<circle cx="263" cy="564.25" r="3.4" fill="#000"/>
<text x="282" y="615.75" font-family="Liberation Sans" font-size="10.5" font-weight="normal" fill="#000" text-anchor="start" stroke="#000" stroke-width="0.2" textLength="22.5" lengthAdjust="spacingAndGlyphs">C-59</text>
<text transform="translate(296.75,488.25) scale(1,1.19)" font-family="Liberation Mono" font-size="12.4" font-weight="normal" fill="#000" stroke="#000" stroke-width="0.25" textLength="52" lengthAdjust="spacingAndGlyphs"><tspan font-family="Liberation Sans" font-size="11.59" dx="0.50">0</tspan><tspan dx="0.50">.85-LR</tspan></text>
<text transform="translate(296.75,502.5) scale(1,1.19)" font-family="Liberation Mono" font-size="12.4" font-weight="normal" fill="#000" stroke="#000" stroke-width="0.25" textLength="20.5" lengthAdjust="spacingAndGlyphs">BrL</text>
<text transform="translate(296.75,532) scale(1,1.19)" font-family="Liberation Mono" font-size="12.4" font-weight="normal" fill="#000" stroke="#000" stroke-width="0.25" textLength="22" lengthAdjust="spacingAndGlyphs">BrW</text>
<text transform="translate(297.5,562) scale(1,1.19)" font-family="Liberation Mono" font-size="12.4" font-weight="normal" fill="#000" stroke="#000" stroke-width="0.25" textLength="6.5" lengthAdjust="spacingAndGlyphs">B</text>
<text transform="translate(298,580) scale(1,1.19)" font-family="Liberation Mono" font-size="12.4" font-weight="normal" fill="#000" stroke="#000" stroke-width="0.25" textLength="15.2" lengthAdjust="spacingAndGlyphs">RW</text>
<path d="M316.00,573.40L320.60,573.40M317.15,571.41L319.45,575.39M319.45,571.41L317.15,575.39" stroke="#000" stroke-width="1.15" fill="none"/>
<text transform="translate(321.8,574.6999999999999)" font-family="Liberation Sans" font-size="7.3" font-weight="bold">2</text>
<text transform="translate(298,593.8) scale(1,1.19)" font-family="Liberation Mono" font-size="12.4" font-weight="normal" fill="#000" stroke="#000" stroke-width="0.25" textLength="15.2" lengthAdjust="spacingAndGlyphs">RW</text>
<path d="M315.50,587.40L320.10,587.40M316.65,585.41L318.95,589.39M318.95,585.41L316.65,589.39" stroke="#000" stroke-width="1.15" fill="none"/>
<text transform="translate(321.3,588.6999999999999)" font-family="Liberation Sans" font-size="7.3" font-weight="bold">1</text>
<line x1="293.25" y1="490" x2="562.5" y2="490" stroke="#000" stroke-width="1.5"/>
<circle cx="562.5" cy="490.75" r="3.4" fill="#000"/>
<text transform="translate(504.5,488.75) scale(1,1.19)" font-family="Liberation Mono" font-size="12.4" font-weight="normal" fill="#000" stroke="#000" stroke-width="0.25" textLength="53" lengthAdjust="spacingAndGlyphs"><tspan font-family="Liberation Sans" font-size="11.59" dx="0.50">0</tspan><tspan dx="0.50">.85-LR</tspan></text>
<polyline points="293.25,504.5 548,504.5 548,772" fill="none" stroke="#000" stroke-width="1.5" stroke-linejoin="miter"/>
<polyline points="293.25,533 580.5,533 579.5,772" fill="none" stroke="#000" stroke-width="1.5" stroke-linejoin="miter"/>
<polyline points="293.25,564.25 337,564.25 337,852" fill="none" stroke="#000" stroke-width="1.5" stroke-linejoin="miter"/>
<polyline points="352.5,730 352.5,548.6 688,548.6" fill="none" stroke="#000" stroke-width="1.5" stroke-linejoin="miter"/>
<polyline points="368.2,730 368.2,564.2 688,564.2" fill="none" stroke="#000" stroke-width="1.5" stroke-linejoin="miter"/>
<line x1="293.25" y1="580.5" x2="688" y2="580.5" stroke="#000" stroke-width="1.5"/>
<line x1="293.25" y1="595.9" x2="688" y2="595.9" stroke="#000" stroke-width="1.5"/>
<polyline points="504.7,772 504.7,612.4 688,612.4" fill="none" stroke="#000" stroke-width="1.5" stroke-linejoin="miter"/>
<polyline points="620.7,772 620.7,627 688,627" fill="none" stroke="#000" stroke-width="1.5" stroke-linejoin="miter"/>
<polygon points="687,545.0 698.6,548.6 687,552.2" fill="#000"/>
<circle cx="705.6" cy="548.9" r="5.3" fill="#fff" stroke="#000" stroke-width="1.4"/>
<text x="705.6" y="552.2" font-family="Liberation Sans" font-size="9.5" font-weight="bold" fill="#000" text-anchor="middle">1</text>
<polygon points="687,560.5 698.6,564.1 687,567.7" fill="#000"/>
<circle cx="705.6" cy="564.4" r="5.3" fill="#fff" stroke="#000" stroke-width="1.4"/>
<text x="705.6" y="567.7" font-family="Liberation Sans" font-size="9.5" font-weight="bold" fill="#000" text-anchor="middle">2</text>
<polygon points="687,576.8 698.6,580.4 687,584.0" fill="#000"/>
<circle cx="705.6" cy="580.6999999999999" r="5.3" fill="#fff" stroke="#000" stroke-width="1.4"/>
<text x="705.6" y="584.0" font-family="Liberation Sans" font-size="9.5" font-weight="bold" fill="#000" text-anchor="middle">3</text>
<polygon points="687,592.4 698.6,596 687,599.6" fill="#000"/>
<circle cx="705.6" cy="596.3" r="5.3" fill="#fff" stroke="#000" stroke-width="1.4"/>
<text x="705.6" y="599.6" font-family="Liberation Sans" font-size="9.5" font-weight="bold" fill="#000" text-anchor="middle">4</text>
<polygon points="687,608.8 698.6,612.4 687,616.0" fill="#000"/>
<circle cx="705.6" cy="612.6999999999999" r="5.3" fill="#fff" stroke="#000" stroke-width="1.4"/>
<text x="705.6" y="616.0" font-family="Liberation Sans" font-size="9.5" font-weight="bold" fill="#000" text-anchor="middle">5</text>
<polygon points="687,623.4 698.6,627 687,630.6" fill="#000"/>
<circle cx="705.6" cy="627.3" r="5.3" fill="#fff" stroke="#000" stroke-width="1.4"/>
<text x="705.6" y="630.6" font-family="Liberation Sans" font-size="9.5" font-weight="bold" fill="#000" text-anchor="middle">6</text>
<text transform="translate(670,546) scale(1,1.19)" font-family="Liberation Mono" font-size="12.4" font-weight="normal" fill="#000" stroke="#000" stroke-width="0.25" textLength="14.6" lengthAdjust="spacingAndGlyphs">GW</text>
<text transform="translate(670,561.6) scale(1,1.19)" font-family="Liberation Mono" font-size="12.4" font-weight="normal" fill="#000" stroke="#000" stroke-width="0.25" textLength="14.6" lengthAdjust="spacingAndGlyphs">GW</text>
<text transform="translate(670,578) scale(1,1.19)" font-family="Liberation Mono" font-size="12.4" font-weight="normal" fill="#000" stroke="#000" stroke-width="0.25" textLength="14.6" lengthAdjust="spacingAndGlyphs">RW</text>
<text transform="translate(670,593.6) scale(1,1.19)" font-family="Liberation Mono" font-size="12.4" font-weight="normal" fill="#000" stroke="#000" stroke-width="0.25" textLength="14.6" lengthAdjust="spacingAndGlyphs">RW</text>
<text transform="translate(630,609.2) scale(1,1.19)" font-family="Liberation Mono" font-size="12.4" font-weight="normal" fill="#000" stroke="#000" stroke-width="0.25" textLength="54.6" lengthAdjust="spacingAndGlyphs"><tspan font-family="Liberation Sans" font-size="11.59" dx="0.50">0</tspan><tspan dx="0.50">.85-WR</tspan></text>
<text transform="translate(630,624.6) scale(1,1.19)" font-family="Liberation Mono" font-size="12.4" font-weight="normal" fill="#000" stroke="#000" stroke-width="0.25" textLength="54.6" lengthAdjust="spacingAndGlyphs"><tspan font-family="Liberation Sans" font-size="11.59" dx="0.50">0</tspan><tspan dx="0.50">.85-YR</tspan></text>
<circle cx="337" cy="650.5" r="3.4" fill="#000"/>
<circle cx="337" cy="687" r="3.4" fill="#000"/>
<circle cx="337" cy="730" r="3.4" fill="#000"/>
<circle cx="351.8" cy="730.3" r="3.2" fill="#000"/>
<circle cx="367.6" cy="730.4" r="3.1" fill="#000"/>
<line x1="365.5" y1="731.6" x2="369.8" y2="731.6" stroke="#ddd" stroke-width="0.8"/>
<circle cx="337" cy="747.6" r="3.4" fill="#000"/>
<polyline points="337,650.5 636.2,650.5 636.2,772" fill="none" stroke="#000" stroke-width="1.5" stroke-linejoin="miter"/>
<polyline points="337,687 488.75,687 488.75,772" fill="none" stroke="#000" stroke-width="1.5" stroke-linejoin="miter"/>
<polyline points="160.3,850 160.3,729.7 337,729.7" fill="none" stroke="#000" stroke-width="1.3" stroke-linejoin="miter"/>
<line x1="337" y1="729.8" x2="368" y2="729.8" stroke="#444" stroke-width="1.2"/>
<line x1="368" y1="729.8" x2="425.6" y2="729.8" stroke="#888" stroke-width="1.1"/>
<line x1="425.6" y1="729.4" x2="425.6" y2="853" stroke="#222" stroke-width="1.2"/>
<polyline points="337,747.6 248.9,747.6 248.9,852" fill="none" stroke="#000" stroke-width="1.2" stroke-linejoin="miter"/>
<polyline points="521.25,772 521.25,701.25 602.5,701.25 602.5,772" fill="none" stroke="#000" stroke-width="1.5" stroke-linejoin="miter"/>
<circle cx="562.3" cy="701.5" r="3.4" fill="#000"/>
<circle cx="160.2" cy="850" r="3" fill="#fff" stroke="#000" stroke-width="1.2"/>
<line x1="152.6" y1="853.8" x2="167.79999999999998" y2="853.8" stroke="#000" stroke-width="1.2"/>
<line x1="155.2" y1="856.8" x2="165.2" y2="856.8" stroke="#000" stroke-width="1.2"/>
<line x1="157.6" y1="859.6" x2="162.79999999999998" y2="859.6" stroke="#000" stroke-width="1.2"/>
<rect x="153.39999999999998" y="863" width="13.6" height="13.4" fill="#000"/>
<text x="160.2" y="873.8" font-family="Liberation Sans" font-size="11" font-weight="bold" fill="#fff" text-anchor="middle" textLength="5" lengthAdjust="spacingAndGlyphs">8</text>
<circle cx="249" cy="852.4" r="3" fill="#fff" stroke="#000" stroke-width="1.2"/>
<line x1="241.4" y1="856.1999999999999" x2="256.6" y2="856.1999999999999" stroke="#000" stroke-width="1.2"/>
<line x1="244" y1="859.1999999999999" x2="254" y2="859.1999999999999" stroke="#000" stroke-width="1.2"/>
<line x1="246.4" y1="862.0" x2="251.6" y2="862.0" stroke="#000" stroke-width="1.2"/>
<rect x="242.2" y="864.6" width="13.6" height="13.4" fill="#000"/>
<text x="249.0" y="875.4" font-family="Liberation Sans" font-size="11" font-weight="bold" fill="#fff" text-anchor="middle" textLength="9.5" lengthAdjust="spacingAndGlyphs">11</text>
<circle cx="337" cy="850.4" r="3" fill="#fff" stroke="#000" stroke-width="1.2"/>
<line x1="329.4" y1="854.1999999999999" x2="344.6" y2="854.1999999999999" stroke="#000" stroke-width="1.2"/>
<line x1="332" y1="857.1999999999999" x2="342" y2="857.1999999999999" stroke="#000" stroke-width="1.2"/>
<line x1="334.4" y1="860.0" x2="339.6" y2="860.0" stroke="#000" stroke-width="1.2"/>
<rect x="330.2" y="865.4" width="13.6" height="13.4" fill="#000"/>
<text x="337.0" y="876.1999999999999" font-family="Liberation Sans" font-size="11" font-weight="bold" fill="#fff" text-anchor="middle" textLength="5" lengthAdjust="spacingAndGlyphs">1</text>
<circle cx="425.6" cy="853" r="3" fill="#fff" stroke="#000" stroke-width="1.2"/>
<line x1="418.0" y1="856.8" x2="433.20000000000005" y2="856.8" stroke="#000" stroke-width="1.2"/>
<line x1="420.6" y1="859.8" x2="430.6" y2="859.8" stroke="#000" stroke-width="1.2"/>
<line x1="423.0" y1="862.6" x2="428.20000000000005" y2="862.6" stroke="#000" stroke-width="1.2"/>
<rect x="420" y="868.2" width="13.6" height="13.4" fill="#000"/>
<text x="426.8" y="879.0" font-family="Liberation Sans" font-size="11" font-weight="bold" fill="#fff" text-anchor="middle" textLength="9.5" lengthAdjust="spacingAndGlyphs">10</text>
<text transform="translate(158,843.6) rotate(-90) scale(1,1.19)" font-family="Liberation Mono" font-size="12.4" font-weight="normal" fill="#000" stroke="#000" stroke-width="0.25" textLength="21.6" lengthAdjust="spacingAndGlyphs">2-B</text>
<text transform="translate(247.6,843.6) rotate(-90) scale(1,1.19)" font-family="Liberation Mono" font-size="12.4" font-weight="normal" fill="#000" stroke="#000" stroke-width="0.25" textLength="21.6" lengthAdjust="spacingAndGlyphs">2-B</text>
<text transform="translate(335.4,843.6) rotate(-90) scale(1,1.19)" font-family="Liberation Mono" font-size="12.4" font-weight="normal" fill="#000" stroke="#000" stroke-width="0.25" textLength="21.4" lengthAdjust="spacingAndGlyphs">2-B</text>
<text transform="translate(423,844) rotate(-90) scale(1,1.19)" font-family="Liberation Mono" font-size="12.4" font-weight="normal" fill="#000" stroke="#000" stroke-width="0.25" textLength="21" lengthAdjust="spacingAndGlyphs">2-B</text>
<text transform="translate(486.6,771) rotate(-90) scale(1,1.19)" font-family="Liberation Mono" font-size="12.4" font-weight="normal" fill="#000" stroke="#000" stroke-width="0.25" textLength="19" lengthAdjust="spacingAndGlyphs">(B)</text>
<path d="M480.30,740.90L480.30,745.50M478.31,742.05L482.29,744.35M482.29,742.05L478.31,744.35" stroke="#000" stroke-width="1.15" fill="none"/>
<text transform="translate(482.40000000000003,740.0) rotate(-90)" font-family="Liberation Sans" font-size="7.3" font-weight="bold">3</text>
<text transform="translate(502,769) rotate(-90) scale(1,1.19)" font-family="Liberation Mono" font-size="12.4" font-weight="normal" fill="#000" stroke="#000" stroke-width="0.25" textLength="52" lengthAdjust="spacingAndGlyphs"><tspan font-family="Liberation Sans" font-size="11.59" dx="0.50">0</tspan><tspan dx="0.50">.85-WR</tspan></text>
<text transform="translate(519,769) rotate(-90) scale(1,1.19)" font-family="Liberation Mono" font-size="12.4" font-weight="normal" fill="#000" stroke="#000" stroke-width="0.25" textLength="52" lengthAdjust="spacingAndGlyphs"><tspan font-family="Liberation Sans" font-size="11.59" dx="0.50">0</tspan><tspan dx="0.50">.85-LR</tspan></text>
<path d="M512.90,707.60L512.90,712.20M510.91,708.75L514.89,711.05M514.89,708.75L510.91,711.05" stroke="#000" stroke-width="1.15" fill="none"/>
<text transform="translate(515.0,706.6999999999999) rotate(-90)" font-family="Liberation Sans" font-size="7.3" font-weight="bold">2</text>
<text transform="translate(545.5,768.75) rotate(-90) scale(1,1.19)" font-family="Liberation Mono" font-size="12.4" font-weight="normal" fill="#000" stroke="#000" stroke-width="0.25" textLength="21" lengthAdjust="spacingAndGlyphs">BrL</text>
<text transform="translate(560.3,768.75) rotate(-90) scale(1,1.19)" font-family="Liberation Mono" font-size="12.4" font-weight="normal" fill="#000" stroke="#000" stroke-width="0.25" textLength="30" lengthAdjust="spacingAndGlyphs">2-LR</text>
<path d="M554.75,729.40L554.75,734.00M552.76,730.55L556.74,732.85M556.74,730.55L552.76,732.85" stroke="#000" stroke-width="1.15" fill="none"/>
<text transform="translate(556.85,728.5) rotate(-90)" font-family="Liberation Sans" font-size="7.3" font-weight="bold">5</text>
<text transform="translate(577.5,768.75) rotate(-90) scale(1,1.19)" font-family="Liberation Mono" font-size="12.4" font-weight="normal" fill="#000" stroke="#000" stroke-width="0.25" textLength="21.75" lengthAdjust="spacingAndGlyphs">BrW</text>
<text transform="translate(601.5,768.5) rotate(-90) scale(1,1.19)" font-family="Liberation Mono" font-size="12.4" font-weight="normal" fill="#000" stroke="#000" stroke-width="0.25" textLength="52" lengthAdjust="spacingAndGlyphs"><tspan font-family="Liberation Sans" font-size="11.59" dx="0.50">0</tspan><tspan dx="0.50">.85-LR</tspan></text>
<path d="M595.25,708.70L595.25,713.30M593.26,709.85L597.24,712.15M597.24,709.85L593.26,712.15" stroke="#000" stroke-width="1.15" fill="none"/>
<text transform="translate(597.35,707.8) rotate(-90)" font-family="Liberation Sans" font-size="7.3" font-weight="bold">4</text>
<text transform="translate(619.6,768.5) rotate(-90) scale(1,1.19)" font-family="Liberation Mono" font-size="12.4" font-weight="normal" fill="#000" stroke="#000" stroke-width="0.25" textLength="51.5" lengthAdjust="spacingAndGlyphs"><tspan font-family="Liberation Sans" font-size="11.59" dx="0.50">0</tspan><tspan dx="0.50">.85-YR</tspan></text>
<text transform="translate(634.5,769.5) rotate(-90) scale(1,1.19)" font-family="Liberation Mono" font-size="12.4" font-weight="normal" fill="#000" stroke="#000" stroke-width="0.25" textLength="18" lengthAdjust="spacingAndGlyphs">(B)</text>
<path d="M628.25,742.00L628.25,746.60M626.26,743.15L630.24,745.45M630.24,743.15L626.26,745.45" stroke="#000" stroke-width="1.15" fill="none"/>
<text transform="translate(630.35,741.0999999999999) rotate(-90)" font-family="Liberation Sans" font-size="7.3" font-weight="bold">1</text>
<rect x="475.7" y="786.25" width="176.30" height="72.50" fill="none" stroke="#000" stroke-width="1.5"/>
<rect x="483.25" y="772" width="159.25" height="14.25" fill="#fff" stroke="#000" stroke-width="1.5"/>
<text x="648" y="782.7" font-family="Liberation Sans" font-size="10.5" font-weight="normal" fill="#000" text-anchor="start" stroke="#000" stroke-width="0.2" textLength="23" lengthAdjust="spacingAndGlyphs">C-58</text>
<line x1="490" y1="786.25" x2="490" y2="824" stroke="#000" stroke-width="1.5"/>
<circle cx="490" cy="827.5" r="3.3" fill="#fff" stroke="#000" stroke-width="1.2"/>
<line x1="489.3" y1="835.5" x2="502.7" y2="815.2" stroke="#000" stroke-width="1.2"/>
<circle cx="504.5" cy="812.5" r="3.3" fill="#fff" stroke="#000" stroke-width="1.2"/>
<line x1="504.5" y1="786.25" x2="504.5" y2="809.2" stroke="#000" stroke-width="1.5"/>
<line x1="520.75" y1="786.25" x2="520.75" y2="824" stroke="#000" stroke-width="1.5"/>
<circle cx="520.75" cy="827.5" r="3.3" fill="#fff" stroke="#000" stroke-width="1.2"/>
<line x1="548" y1="786.25" x2="548" y2="847.5" stroke="#000" stroke-width="1.5"/>
<rect x="544.5" y="812.5" width="8.50" height="12.50" fill="#fff" stroke="#000" stroke-width="1.2"/>
<polyline points="548,802 532.5,802 532.5,811 536.5,813 529.5,816 536.5,819 529.5,822 536.5,825 529.5,828 532.5,830 532.5,837.5 548,837.5" fill="none" stroke="#000" stroke-width="1.2" stroke-linejoin="miter"/>
<polyline points="548,847.5 579.3,847.5 579.3,786.25" fill="none" stroke="#000" stroke-width="1.5" stroke-linejoin="miter"/>
<rect x="575" y="812.5" width="8.25" height="12.50" fill="#fff" stroke="#000" stroke-width="1.2"/>
<polyline points="579.3,802 591.5,802 591.5,811 588,813 595.5,816 588,819 595.5,822 588,825 595.5,828 591.5,830 591.5,837.5 579.3,837.5" fill="none" stroke="#000" stroke-width="1.2" stroke-linejoin="miter"/>
<line x1="561.7" y1="786.25" x2="561.7" y2="847.5" stroke="#000" stroke-width="1.5"/>
<circle cx="548" cy="802" r="3.2" fill="#000"/>
<circle cx="548" cy="837.5" r="3.2" fill="#000"/>
<circle cx="579.3" cy="802" r="3.2" fill="#000"/>
<circle cx="579.3" cy="837.5" r="3.2" fill="#000"/>
<circle cx="561.7" cy="847.5" r="3.2" fill="#000"/>
<line x1="602.5" y1="786.25" x2="602.5" y2="823" stroke="#000" stroke-width="1.5"/>
<circle cx="602.5" cy="826.3" r="3.3" fill="#fff" stroke="#000" stroke-width="1.2"/>
<line x1="620.5" y1="786.25" x2="620.5" y2="810.5" stroke="#000" stroke-width="1.5"/>
<circle cx="620.5" cy="813.75" r="3.3" fill="#fff" stroke="#000" stroke-width="1.2"/>
<line x1="622.6" y1="816.2" x2="638" y2="835.5" stroke="#000" stroke-width="1.2"/>
<line x1="635.75" y1="786.25" x2="635.75" y2="824" stroke="#000" stroke-width="1.5"/>
<circle cx="635.75" cy="827.5" r="3.3" fill="#fff" stroke="#000" stroke-width="1.2"/>
<text x="534.5" y="871.25" font-family="Liberation Sans" font-size="11.5" font-weight="normal" fill="#000" text-anchor="start" stroke="#000" stroke-width="0.2" textLength="48.5" lengthAdjust="spacingAndGlyphs">Door lock</text>
<text x="534.5" y="882.5" font-family="Liberation Sans" font-size="11.5" font-weight="normal" fill="#000" text-anchor="start" stroke="#000" stroke-width="0.2" textLength="60.5" lengthAdjust="spacingAndGlyphs">power relay</text>
<polyline points="130,669 130,649.5 136,644 175,644 181,649.5 181,669 130,669" fill="none" stroke="#000" stroke-width="1.4" stroke-linejoin="miter"/>
<line x1="130" y1="657" x2="181" y2="657" stroke="#000" stroke-width="1.1"/>
<line x1="141.5" y1="644" x2="141.5" y2="669" stroke="#000" stroke-width="1.1"/>
<line x1="155.2" y1="644" x2="155.2" y2="669" stroke="#000" stroke-width="1.1"/>
<line x1="168" y1="644" x2="168" y2="669" stroke="#000" stroke-width="1.1"/>
<line x1="155.2" y1="644" x2="168" y2="657" stroke="#000" stroke-width="0.9"/>
<line x1="168" y1="644" x2="155.2" y2="657" stroke="#000" stroke-width="0.9"/>
<text transform="translate(131,654.3) scale(1,1.1)" font-family="Liberation Mono" font-size="5.6" font-weight="bold" fill="#000" textLength="9.6" lengthAdjust="spacingAndGlyphs">BrW</text>
<text transform="translate(144,654.3) scale(1,1.1)" font-family="Liberation Mono" font-size="6.2" font-weight="bold" fill="#000" textLength="8" lengthAdjust="spacingAndGlyphs">RW</text>
<text transform="translate(169.3,654.3) scale(1,1.1)" font-family="Liberation Mono" font-size="5.6" font-weight="bold" fill="#000" textLength="10.5" lengthAdjust="spacingAndGlyphs">BrL</text>
<text transform="translate(146.5,666.7) scale(1,1.1)" font-family="Liberation Mono" font-size="6.2" font-weight="bold" fill="#000" textLength="3.6" lengthAdjust="spacingAndGlyphs">B</text>
<text transform="translate(158,666.7) scale(1,1.1)" font-family="Liberation Mono" font-size="6.2" font-weight="bold" fill="#000" textLength="7.6" lengthAdjust="spacingAndGlyphs">LR</text>
<text transform="translate(170.5,666.7) scale(1,1.1)" font-family="Liberation Mono" font-size="6.2" font-weight="bold" fill="#000" textLength="8" lengthAdjust="spacingAndGlyphs">RW</text>
<path d="M143.90,631.50L149.10,631.50M145.20,629.25L147.80,633.75M147.80,629.25L145.20,633.75" stroke="#000" stroke-width="1.15" fill="none"/>
<text transform="translate(150.0,632.8)" font-family="Liberation Sans" font-size="7.6" font-weight="bold">1</text>
<line x1="148.2" y1="636.5" x2="148.2" y2="646.5" stroke="#000" stroke-width="1"/>
<path d="M171.90,683.20L177.10,683.20M173.20,680.95L175.80,685.45M175.80,680.95L173.20,685.45" stroke="#000" stroke-width="1.15" fill="none"/>
<text transform="translate(178.0,684.5)" font-family="Liberation Sans" font-size="7.6" font-weight="bold">2</text>
<line x1="176.5" y1="667" x2="176.5" y2="678" stroke="#000" stroke-width="1"/>
<polyline points="615.6,926.5 615.6,904.4 620.6,898.75 677.5,898.75 681.9,904.4 681.9,926.5 615.6,926.5" fill="none" stroke="#000" stroke-width="1.4" stroke-linejoin="miter"/>
<line x1="615.6" y1="913.5" x2="681.9" y2="913.5" stroke="#000" stroke-width="1.1"/>
<line x1="628.75" y1="898.75" x2="628.75" y2="926.5" stroke="#000" stroke-width="1.1"/>
<line x1="642.25" y1="898.75" x2="642.25" y2="926.5" stroke="#000" stroke-width="1.1"/>
<line x1="654.75" y1="898.75" x2="654.75" y2="926.5" stroke="#000" stroke-width="1.1"/>
<line x1="668.1" y1="898.75" x2="668.1" y2="926.5" stroke="#000" stroke-width="1.1"/>
<line x1="642.25" y1="898.75" x2="654.75" y2="913.5" stroke="#000" stroke-width="0.9"/>
<line x1="654.75" y1="898.75" x2="642.25" y2="913.5" stroke="#000" stroke-width="0.9"/>
<text transform="translate(620.5,910) scale(1,1.1)" font-family="Liberation Mono" font-size="6.2" font-weight="bold" fill="#000" textLength="3.6" lengthAdjust="spacingAndGlyphs">B</text>
<text transform="translate(631.5,910) scale(1,1.1)" font-family="Liberation Mono" font-size="6.2" font-weight="bold" fill="#000" textLength="8" lengthAdjust="spacingAndGlyphs">YR</text>
<text transform="translate(657.5,910) scale(1,1.1)" font-family="Liberation Mono" font-size="6.2" font-weight="bold" fill="#000" textLength="8" lengthAdjust="spacingAndGlyphs">LR</text>
<text transform="translate(673,910) scale(1,1.1)" font-family="Liberation Mono" font-size="6.2" font-weight="bold" fill="#000" textLength="3.6" lengthAdjust="spacingAndGlyphs">B</text>
<text transform="translate(618.5,923.5) scale(1,1.1)" font-family="Liberation Mono" font-size="6.2" font-weight="bold" fill="#000" textLength="7.6" lengthAdjust="spacingAndGlyphs">LR</text>
<text transform="translate(629.8,923.5) scale(1,1.1)" font-family="Liberation Mono" font-size="5.8" font-weight="bold" fill="#000" textLength="11.5" lengthAdjust="spacingAndGlyphs">BrW</text>
<text transform="translate(644.5,923.5) scale(1,1.1)" font-family="Liberation Mono" font-size="6.2" font-weight="bold" fill="#000" textLength="7.6" lengthAdjust="spacingAndGlyphs">LR</text>
<text transform="translate(655.6,923.5) scale(1,1.1)" font-family="Liberation Mono" font-size="5.8" font-weight="bold" fill="#000" textLength="11.5" lengthAdjust="spacingAndGlyphs">BrL</text>
<text transform="translate(671,923.5) scale(1,1.1)" font-family="Liberation Mono" font-size="6.2" font-weight="bold" fill="#000" textLength="8" lengthAdjust="spacingAndGlyphs">WR</text>
<path d="M619.40,890.00L623.60,890.00M620.45,888.18L622.55,891.82M622.55,888.18L620.45,891.82" stroke="#000" stroke-width="1.3" fill="none"/>
<text transform="translate(625.1,891.9)" font-family="Liberation Sans" font-size="7.6" font-weight="bold">1</text>
<path d="M655.50,890.50L659.70,890.50M656.55,888.68L658.65,892.32M658.65,888.68L656.55,892.32" stroke="#000" stroke-width="1.3" fill="none"/>
<text transform="translate(661.2,892.4)" font-family="Liberation Sans" font-size="7.6" font-weight="bold">2</text>
<path d="M669.90,890.40L674.10,890.40M670.95,888.58L673.05,892.22M673.05,888.58L670.95,892.22" stroke="#000" stroke-width="1.3" fill="none"/>
<text transform="translate(675.6,892.3)" font-family="Liberation Sans" font-size="7.6" font-weight="bold">3</text>
<path d="M617.90,936.90L622.10,936.90M618.95,935.08L621.05,938.72M621.05,935.08L618.95,938.72" stroke="#000" stroke-width="1.3" fill="none"/>
<text transform="translate(623.6,938.8)" font-family="Liberation Sans" font-size="7.6" font-weight="bold">4</text>
<path d="M645.15,937.00L649.35,937.00M646.20,935.18L648.30,938.82M648.30,935.18L646.20,938.82" stroke="#000" stroke-width="1.3" fill="none"/>
<text transform="translate(650.85,938.9)" font-family="Liberation Sans" font-size="7.6" font-weight="bold">5</text>
<line x1="622.5" y1="893.75" x2="622.5" y2="902" stroke="#000" stroke-width="1"/>
<line x1="660.6" y1="893.75" x2="660.6" y2="902" stroke="#000" stroke-width="1"/>
<line x1="674.6" y1="893.75" x2="674.6" y2="902" stroke="#000" stroke-width="1"/>
<line x1="622.5" y1="924.4" x2="622.5" y2="932" stroke="#000" stroke-width="1"/>
<line x1="649.6" y1="924.4" x2="649.6" y2="932" stroke="#000" stroke-width="1"/>
</svg>
</body></html>
